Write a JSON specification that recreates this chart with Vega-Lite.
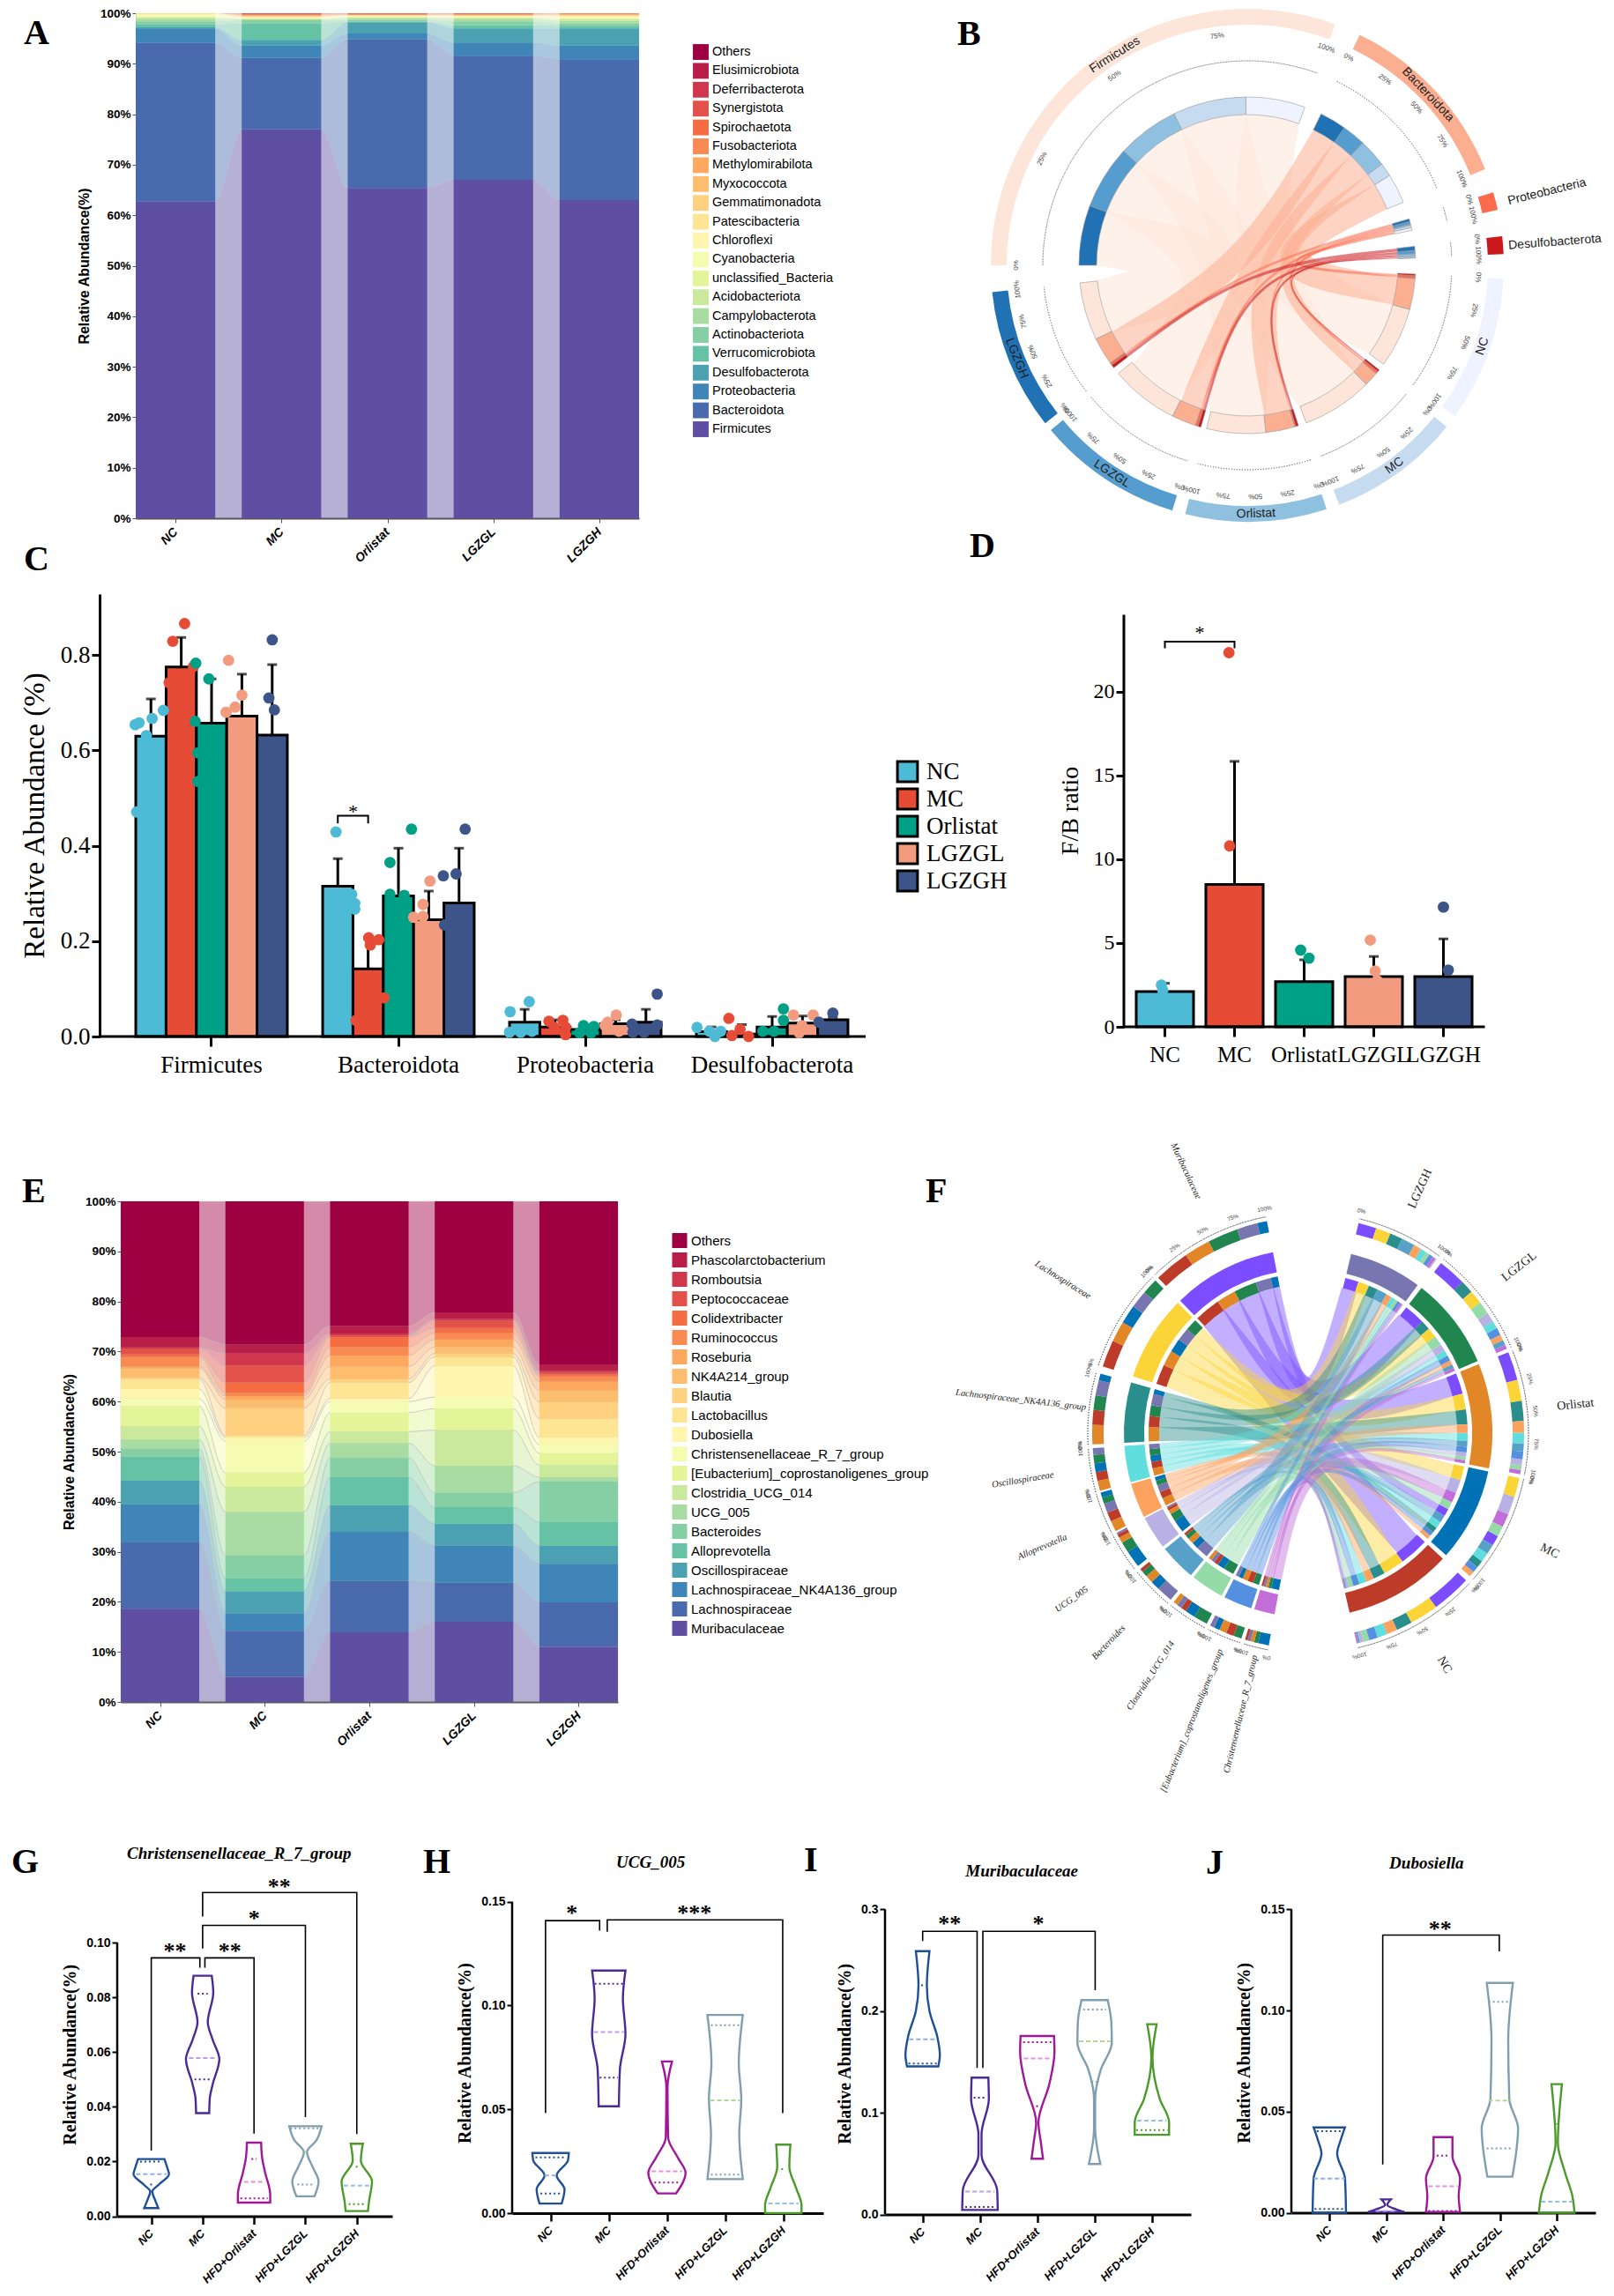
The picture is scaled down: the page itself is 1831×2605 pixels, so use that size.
{"$schema":"https://vega.github.io/schema/vega-lite/v6.json","background":"white","padding":{"left":13,"top":-17,"right":0,"bottom":40},"config":{"view":{"stroke":null},"axis":{"grid":false}},
"datasets":{
"slots":[{"s":"N0","g":"NC"},{"s":"N1","g":"NC"},{"s":"M0","g":"MC"},{"s":"M1","g":"MC"},{"s":"O0","g":"Orlistat"},{"s":"O1","g":"Orlistat"},{"s":"L0","g":"LGZGL"},{"s":"L1","g":"LGZGL"},{"s":"H0","g":"LGZGH"},{"s":"H1","g":"LGZGH"}],
"phyla":[
{"t":"Firmicutes","r":1,"N0":62.7,"N1":62.7,"M0":77,"M1":77,"O0":65.4,"O1":65.4,"L0":67,"L1":67,"H0":63,"H1":63},
{"t":"Bacteroidota","r":2,"N0":31.4,"N1":31.4,"M0":14.2,"M1":14.2,"O0":29.4,"O1":29.4,"L0":24.6,"L1":24.6,"H0":27.9,"H1":27.9},
{"t":"Proteobacteria","r":3,"N0":2.9,"N1":2.9,"M0":2.4,"M1":2.4,"O0":1.2,"O1":1.2,"L0":2.6,"L1":2.6,"H0":2.7,"H1":2.7},
{"t":"Desulfobacterota","r":4,"N0":0.2,"N1":0.2,"M0":1.1,"M1":1.1,"O0":2.2,"O1":2.2,"L0":2.8,"L1":2.8,"H0":3.4,"H1":3.4},
{"t":"Verrucomicrobiota","r":5,"N0":0.6,"N1":0.6,"M0":3.3,"M1":3.3,"O0":0.1,"O1":0.1,"L0":0.6,"L1":0.6,"H0":0.5,"H1":0.5},
{"t":"Actinobacteriota","r":6,"N0":0.6,"N1":0.6,"M0":0.6,"M1":0.6,"O0":0.4,"O1":0.4,"L0":0.8,"L1":0.8,"H0":0.5,"H1":0.5},
{"t":"Campylobacterota","r":7,"N0":0.5,"N1":0.5,"M0":0.2,"M1":0.2,"O0":0.3,"O1":0.3,"L0":0.5,"L1":0.5,"H0":0.5,"H1":0.5},
{"t":"Acidobacteriota","r":8,"N0":0.3,"N1":0.3,"M0":0.1,"M1":0.1,"O0":0.2,"O1":0.2,"L0":0.2,"L1":0.2,"H0":0.3,"H1":0.3},
{"t":"unclassified_Bacteria","r":9,"N0":0.2,"N1":0.2,"M0":0.1,"M1":0.1,"O0":0.1,"O1":0.1,"L0":0.1,"L1":0.1,"H0":0.2,"H1":0.2},
{"t":"Cyanobacteria","r":10,"N0":0.2,"N1":0.2,"M0":0.1,"M1":0.1,"O0":0.1,"O1":0.1,"L0":0.1,"L1":0.1,"H0":0.2,"H1":0.2},
{"t":"Chloroflexi","r":11,"N0":0.2,"N1":0.2,"M0":0.1,"M1":0.1,"O0":0.1,"O1":0.1,"L0":0.1,"L1":0.1,"H0":0.2,"H1":0.2},
{"t":"Patescibacteria","r":12,"N0":0.1,"N1":0.1,"M0":0.1,"M1":0.1,"O0":0.1,"O1":0.1,"L0":0.1,"L1":0.1,"H0":0.1,"H1":0.1},
{"t":"Gemmatimonadota","r":13,"N0":0.1,"N1":0.1,"M0":0.1,"M1":0.1,"O0":0,"O1":0,"L0":0.1,"L1":0.1,"H0":0.1,"H1":0.1},
{"t":"Myxococcota","r":14,"N0":0,"N1":0,"M0":0.1,"M1":0.1,"O0":0,"O1":0,"L0":0,"L1":0,"H0":0.1,"H1":0.1},
{"t":"Methylomirabilota","r":15,"N0":0,"N1":0,"M0":0.1,"M1":0.1,"O0":0.1,"O1":0.1,"L0":0.1,"L1":0.1,"H0":0.1,"H1":0.1},
{"t":"Fusobacteriota","r":16,"N0":0,"N1":0,"M0":0.1,"M1":0.1,"O0":0.1,"O1":0.1,"L0":0.1,"L1":0.1,"H0":0.1,"H1":0.1},
{"t":"Spirochaetota","r":17,"N0":0,"N1":0,"M0":0.1,"M1":0.1,"O0":0.1,"O1":0.1,"L0":0.1,"L1":0.1,"H0":0.1,"H1":0.1},
{"t":"Synergistota","r":18,"N0":0,"N1":0,"M0":0.1,"M1":0.1,"O0":0.1,"O1":0.1,"L0":0.1,"L1":0.1,"H0":0,"H1":0},
{"t":"Deferribacterota","r":19,"N0":0,"N1":0,"M0":0.1,"M1":0.1,"O0":0,"O1":0,"L0":0,"L1":0,"H0":0,"H1":0},
{"t":"Elusimicrobiota","r":20,"N0":0,"N1":0,"M0":0,"M1":0,"O0":0,"O1":0,"L0":0,"L1":0,"H0":0,"H1":0},
{"t":"Others","r":21,"N0":0,"N1":0,"M0":0,"M1":0,"O0":0,"O1":0,"L0":0,"L1":0,"H0":0,"H1":0}],
"genera":[
{"t":"Muribaculaceae","r":1,"N0":18.6,"N1":18.6,"M0":5,"M1":5,"O0":13.9,"O1":13.9,"L0":16,"L1":16,"H0":11,"H1":11},
{"t":"Lachnospiraceae","r":2,"N0":13.4,"N1":13.4,"M0":9.2,"M1":9.2,"O0":10.3,"O1":10.3,"L0":7.8,"L1":7.8,"H0":8.9,"H1":8.9},
{"t":"Lachnospiraceae_NK4A136_group","r":3,"N0":7.5,"N1":7.5,"M0":3.5,"M1":3.5,"O0":9.8,"O1":9.8,"L0":7.4,"L1":7.4,"H0":7.7,"H1":7.7},
{"t":"Oscillospiraceae","r":4,"N0":4.7,"N1":4.7,"M0":4.4,"M1":4.4,"O0":5.3,"O1":5.3,"L0":4.4,"L1":4.4,"H0":3.6,"H1":3.6},
{"t":"Alloprevotella","r":5,"N0":4.8,"N1":4.8,"M0":2.6,"M1":2.6,"O0":5.6,"O1":5.6,"L0":3.3,"L1":3.3,"H0":4.7,"H1":4.7},
{"t":"Bacteroides","r":6,"N0":1.6,"N1":1.6,"M0":4.6,"M1":4.6,"O0":3.9,"O1":3.9,"L0":2.9,"L1":2.9,"H0":8.1,"H1":8.1},
{"t":"UCG_005","r":7,"N0":1.8,"N1":1.8,"M0":8.7,"M1":8.7,"O0":2.9,"O1":2.9,"L0":5.4,"L1":5.4,"H0":0.9,"H1":0.9},
{"t":"Clostridia_UCG_014","r":8,"N0":2.7,"N1":2.7,"M0":5,"M1":5,"O0":2.3,"O1":2.3,"L0":7.1,"L1":7.1,"H0":2.4,"H1":2.4},
{"t":"[Eubacterium]_coprostanoligenes_group","r":9,"N0":4,"N1":4,"M0":2.8,"M1":2.8,"O0":3.8,"O1":3.8,"L0":4.3,"L1":4.3,"H0":2.4,"H1":2.4},
{"t":"Christensenellaceae_R_7_group","r":10,"N0":1.5,"N1":1.5,"M0":6.3,"M1":6.3,"O0":2.2,"O1":2.2,"L0":2.3,"L1":2.3,"H0":1.7,"H1":1.7},
{"t":"Dubosiella","r":11,"N0":1.9,"N1":1.9,"M0":0.7,"M1":0.7,"O0":0.6,"O1":0.6,"L0":6.2,"L1":6.2,"H0":1.4,"H1":1.4},
{"t":"Lactobacillus","r":12,"N0":2,"N1":2,"M0":0.4,"M1":0.4,"O0":3.2,"O1":3.2,"L0":1.8,"L1":1.8,"H0":3.8,"H1":3.8},
{"t":"Blautia","r":13,"N0":0.3,"N1":0.3,"M0":5.5,"M1":5.5,"O0":0.7,"O1":0.7,"L0":0.7,"L1":0.7,"H0":3.3,"H1":3.3},
{"t":"NK4A214_group","r":14,"N0":1.8,"N1":1.8,"M0":1.7,"M1":1.7,"O0":2.5,"O1":2.5,"L0":1.3,"L1":1.3,"H0":2.3,"H1":2.3},
{"t":"Roseburia","r":15,"N0":0.4,"N1":0.4,"M0":0.7,"M1":0.7,"O0":2.2,"O1":2.2,"L0":1.5,"L1":1.5,"H0":1.8,"H1":1.8},
{"t":"Ruminococcus","r":16,"N0":1.9,"N1":1.9,"M0":0.6,"M1":0.6,"O0":1.7,"O1":1.7,"L0":1.3,"L1":1.3,"H0":1,"H1":1},
{"t":"Colidextribacter","r":17,"N0":0.5,"N1":0.5,"M0":2.1,"M1":2.1,"O0":2,"O1":2,"L0":1,"L1":1,"H0":0.4,"H1":0.4},
{"t":"Peptococcaceae","r":18,"N0":1.2,"N1":1.2,"M0":3.4,"M1":3.4,"O0":0.3,"O1":0.3,"L0":1.5,"L1":1.5,"H0":0.4,"H1":0.4},
{"t":"Romboutsia","r":19,"N0":0.2,"N1":0.2,"M0":2.4,"M1":2.4,"O0":0.4,"O1":0.4,"L0":0.3,"L1":0.3,"H0":0.3,"H1":0.3},
{"t":"Phascolarctobacterium","r":20,"N0":2.1,"N1":2.1,"M0":1.8,"M1":1.8,"O0":1.5,"O1":1.5,"L0":1.3,"L1":1.3,"H0":1.2,"H1":1.2},
{"t":"Others","r":21,"N0":27.1,"N1":27.1,"M0":28.6,"M1":28.6,"O0":24.9,"O1":24.9,"L0":22.2,"L1":22.2,"H0":32.7,"H1":32.7}],
"bSec":[
{"n":"Firmicutes","s":270,"e":380,"m":327.8,"0%":270,"25%":297.5,"50%":325,"75%":352.5,"100%":380},
{"n":"Bacteroidota","s":26,"e":68,"m":46.6,"0%":26,"25%":36.5,"50%":47,"75%":57.5,"100%":68},
{"n":"Proteobacteria","s":73.5,"e":77.5,"m":76.2,"0%":73.5,"100%":77.5},
{"n":"Desulfobacterota","s":83.5,"e":87.5,"m":85.7,"0%":83.5,"100%":87.5},
{"n":"NC","s":93,"e":126,"m":109,"0%":93,"25%":101.25,"50%":109.5,"75%":117.75,"100%":126},
{"n":"MC","s":129,"e":159,"m":143.7,"0%":129,"25%":136.5,"50%":144,"75%":151.5,"100%":159},
{"n":"Orlistat","s":162,"e":194,"m":178,"0%":162,"25%":170,"50%":178,"75%":186,"100%":194},
{"n":"LGZGL","s":197,"e":230,"m":213,"0%":197,"25%":205.25,"50%":213.5,"75%":221.75,"100%":230},
{"n":"LGZGH","s":232,"e":264,"m":248,"0%":232,"25%":240,"50%":248,"75%":256,"100%":264}],
"bCh":[
{"t":"Firmicutes","g":"NC","v":62.7,"a0":359.5,"a1":380,"b0":105.2,"b1":126,"x":[0.169,0,0.902],"y":[0.986,0,-0.432]},
{"t":"Firmicutes","g":"MC","v":77,"a0":334.2,"a1":359.5,"b0":135,"b1":159.5,"x":[-0.228,0,0.541],"y":[0.974,0,-0.841]},
{"t":"Firmicutes","g":"Orlistat","v":65.4,"a0":312.7,"a1":334.2,"b0":173.6,"b1":194,"x":[-0.596,0,-0.066],"y":[0.803,0,-0.998]},
{"t":"Firmicutes","g":"LGZGL","v":67,"a0":290.7,"a1":312.7,"b0":206.3,"b1":230,"x":[-0.851,0,-0.618],"y":[0.525,0,-0.786]},
{"t":"Firmicutes","g":"LGZGH","v":63,"a0":270,"a1":290.7,"b0":244,"b1":264,"x":[-0.984,0,-0.961],"y":[0.18,0,-0.276]},
{"t":"Bacteroidota","g":"NC","v":31.4,"a0":57.7,"a1":68,"b0":94.5,"b1":105.2,"x":[0.89,0,0.985],"y":[0.456,0,-0.171]},
{"t":"Bacteroidota","g":"MC","v":14.2,"a0":53,"a1":57.7,"b0":130,"b1":135,"x":[0.823,0,0.737],"y":[0.569,0,-0.676]},
{"t":"Bacteroidota","g":"Orlistat","v":29.4,"a0":43.3,"a1":53,"b0":163.6,"b1":173.6,"x":[0.745,0,0.198],"y":[0.667,0,-0.98]},
{"t":"Bacteroidota","g":"LGZGL","v":24.6,"a0":35.2,"a1":43.3,"b0":197.9,"b1":206.3,"x":[0.633,0,-0.376],"y":[0.774,0,-0.927]},
{"t":"Bacteroidota","g":"LGZGH","v":27.9,"a0":26,"a1":35.2,"b0":234.5,"b1":244,"x":[0.509,0,-0.859],"y":[0.861,0,-0.511]},
{"t":"Proteobacteria","g":"NC","v":2.9,"a0":77,"a1":78,"b0":93.5,"b1":94.5,"x":[0.976,0,0.998],"y":[0.216,0,-0.07]},
{"t":"Proteobacteria","g":"MC","v":2.4,"a0":76.2,"a1":77,"b0":129.1,"b1":130,"x":[0.973,0,0.771],"y":[0.232,0,-0.637]},
{"t":"Proteobacteria","g":"Orlistat","v":1.2,"a0":75.8,"a1":76.2,"b0":163.2,"b1":163.6,"x":[0.97,0,0.286],"y":[0.242,0,-0.958]},
{"t":"Proteobacteria","g":"LGZGL","v":2.6,"a0":74.9,"a1":75.8,"b0":197,"b1":197.9,"x":[0.967,0,-0.3],"y":[0.253,0,-0.954]},
{"t":"Proteobacteria","g":"LGZGH","v":2.7,"a0":74,"a1":74.9,"b0":233.6,"b1":234.5,"x":[0.963,0,-0.809],"y":[0.268,0,-0.588]},
{"t":"Desulfobacterota","g":"NC","v":0.2,"a0":87.4,"a1":87.5,"b0":93,"b1":93.5,"x":[0.999,0,0.998],"y":[0.044,0,-0.057]},
{"t":"Desulfobacterota","g":"MC","v":1.1,"a0":86.9,"a1":87.4,"b0":128.4,"b1":129.1,"x":[0.999,0,0.78],"y":[0.05,0,-0.626]},
{"t":"Desulfobacterota","g":"Orlistat","v":2.2,"a0":86,"a1":86.9,"b0":162.3,"b1":163.2,"x":[0.998,0,0.297],"y":[0.062,0,-0.955]},
{"t":"Desulfobacterota","g":"LGZGL","v":2.8,"a0":84.9,"a1":86,"b0":196,"b1":197,"x":[0.997,0,-0.284],"y":[0.079,0,-0.959]},
{"t":"Desulfobacterota","g":"LGZGH","v":3.4,"a0":83.5,"a1":84.9,"b0":232.5,"b1":233.6,"x":[0.995,0,-0.799],"y":[0.101,0,-0.602]}],
"fSec":[
{"n":"Muribaculaceae","s":316,"e":349,"m":335,"0%":316,"25%":324.25,"50%":332.5,"75%":340.75,"100%":349},
{"n":"Lachnospiraceae","s":288,"e":315,"m":302,"0%":288,"100%":315},
{"n":"Lachnospiraceae_NK4A136_group","s":267,"e":286,"m":276.6,"0%":267,"100%":286},
{"n":"Oscillospiraceae","s":254.5,"e":266,"m":260.7,"0%":254.5,"100%":266},
{"n":"Alloprevotella","s":243,"e":254,"m":246.8,"0%":243,"100%":254},
{"n":"UCG_005","s":232,"e":242.5,"m":234.9,"0%":232,"100%":242.5},
{"n":"Bacteroides","s":219.5,"e":231,"m":223.6,"0%":219.5,"100%":231},
{"n":"Clostridia_UCG_014","s":208,"e":218.5,"m":213,"0%":208,"100%":218.5},
{"n":"[Eubacterium]_coprostanoligenes_group","s":198,"e":207,"m":202,"0%":198,"100%":207},
{"n":"Christensenellaceae_R_7_group","s":190.5,"e":197,"m":193.5,"0%":190.5,"100%":197},
{"n":"LGZGH","s":13.5,"e":36.5,"m":24.6,"0%":13.5,"100%":36.5},
{"n":"LGZGL","s":38,"e":67,"m":51.7,"0%":38,"100%":67},
{"n":"Orlistat","s":68,"e":101,"m":83.9,"0%":68,"25%":76.25,"50%":84.5,"75%":92.75,"100%":101},
{"n":"MC","s":102,"e":131.5,"m":116,"0%":102,"100%":131.5},
{"n":"NC","s":133,"e":167,"m":149.5,"0%":133,"25%":141.5,"50%":150,"75%":158.5,"100%":167}],
"fCh":[
{"t":"Muribaculaceae","g":"NC","v":18.6,"a0":316,"a1":325.5,"b0":133,"b1":143.7,"x":[-0.633,0,0.665],"y":[0.775,0,-0.747]},
{"t":"Muribaculaceae","g":"Orlistat","v":13.9,"a0":325.5,"a1":332.6,"b0":68,"b1":75.7,"x":[-0.514,0,0.95],"y":[0.858,0,0.311]},
{"t":"Muribaculaceae","g":"LGZGL","v":16,"a0":332.6,"a1":340.8,"b0":38,"b1":45.6,"x":[-0.396,0,0.666],"y":[0.918,0,0.745]},
{"t":"Muribaculaceae","g":"LGZGH","v":11,"a0":340.8,"a1":346.4,"b0":13.5,"b1":18.4,"x":[-0.282,0,0.275],"y":[0.959,0,0.962]},
{"t":"Muribaculaceae","g":"MC","v":5,"a0":346.4,"a1":349,"b0":118.5,"b1":121.3,"x":[-0.213,0,0.867],"y":[0.977,0,-0.498]},
{"t":"Lachnospiraceae","g":"NC","v":13.4,"a0":288,"a1":295.3,"b0":143.7,"b1":151.4,"x":[-0.93,0,0.537],"y":[0.369,0,-0.844]},
{"t":"Lachnospiraceae","g":"Orlistat","v":10.3,"a0":295.3,"a1":300.9,"b0":75.7,"b1":81.4,"x":[-0.882,0,0.98],"y":[0.471,0,0.199]},
{"t":"Lachnospiraceae","g":"MC","v":9.2,"a0":300.9,"a1":305.9,"b0":102,"b1":107.2,"x":[-0.835,0,0.968],"y":[0.55,0,-0.252]},
{"t":"Lachnospiraceae","g":"LGZGH","v":8.9,"a0":305.9,"a1":310.7,"b0":18.4,"b1":22.4,"x":[-0.785,0,0.349],"y":[0.62,0,0.937]},
{"t":"Lachnospiraceae","g":"LGZGL","v":7.8,"a0":310.7,"a1":315,"b0":49.1,"b1":52.8,"x":[-0.733,0,0.777],"y":[0.68,0,0.63]},
{"t":"Lachnospiraceae_NK4A136_group","g":"Orlistat","v":9.8,"a0":267,"a1":272.2,"b0":81.4,"b1":86.8,"x":[-1,0,0.995],"y":[-0.007,0,0.103]},
{"t":"Lachnospiraceae_NK4A136_group","g":"NC","v":7.5,"a0":272.2,"a1":276.2,"b0":151.4,"b1":155.7,"x":[-0.997,0,0.445],"y":[0.073,0,-0.895]},
{"t":"Lachnospiraceae_NK4A136_group","g":"LGZGL","v":7.4,"a0":276.2,"a1":280.1,"b0":45.6,"b1":49.1,"x":[-0.99,0,0.736],"y":[0.142,0,0.678]},
{"t":"Lachnospiraceae_NK4A136_group","g":"LGZGH","v":7.7,"a0":280.1,"a1":284.2,"b0":22.4,"b1":25.8,"x":[-0.978,0,0.408],"y":[0.21,0,0.913]},
{"t":"Lachnospiraceae_NK4A136_group","g":"MC","v":3.5,"a0":284.2,"a1":286,"b0":126.4,"b1":128.4,"x":[-0.965,0,0.794],"y":[0.261,0,-0.607]},
{"t":"Oscillospiraceae","g":"Orlistat","v":5.3,"a0":254.5,"a1":257.2,"b0":89.9,"b1":92.8,"x":[-0.97,0,1],"y":[-0.244,0,-0.024]},
{"t":"Oscillospiraceae","g":"NC","v":4.7,"a0":257.2,"a1":259.6,"b0":158.5,"b1":161.2,"x":[-0.98,0,0.344],"y":[-0.201,0,-0.939]},
{"t":"Oscillospiraceae","g":"MC","v":4.4,"a0":259.6,"a1":261.9,"b0":123.9,"b1":126.4,"x":[-0.987,0,0.818],"y":[-0.161,0,-0.576]},
{"t":"Oscillospiraceae","g":"LGZGL","v":4.4,"a0":261.9,"a1":264.2,"b0":58.8,"b1":60.9,"x":[-0.993,0,0.865],"y":[-0.121,0,0.502]},
{"t":"Oscillospiraceae","g":"LGZGH","v":3.6,"a0":264.2,"a1":266,"b0":31.5,"b1":33.1,"x":[-0.996,0,0.534],"y":[-0.085,0,0.845]},
{"t":"Alloprevotella","g":"Orlistat","v":5.6,"a0":243,"a1":245.9,"b0":86.8,"b1":89.9,"x":[-0.902,0,1],"y":[-0.431,0,0.029]},
{"t":"Alloprevotella","g":"NC","v":4.8,"a0":245.9,"a1":248.4,"b0":155.7,"b1":158.5,"x":[-0.922,0,0.389],"y":[-0.388,0,-0.921]},
{"t":"Alloprevotella","g":"LGZGH","v":4.7,"a0":248.4,"a1":250.9,"b0":29.4,"b1":31.5,"x":[-0.938,0,0.507],"y":[-0.348,0,0.862]},
{"t":"Alloprevotella","g":"LGZGL","v":3.3,"a0":250.9,"a1":252.6,"b0":62.9,"b1":64.5,"x":[-0.95,0,0.896],"y":[-0.313,0,0.443]},
{"t":"Alloprevotella","g":"MC","v":2.6,"a0":252.6,"a1":254,"b0":130,"b1":131.5,"x":[-0.958,0,0.758],"y":[-0.287,0,-0.653]},
{"t":"UCG_005","g":"MC","v":8.7,"a0":232,"a1":236.6,"b0":107.2,"b1":112.1,"x":[-0.812,0,0.942],"y":[-0.584,0,-0.336]},
{"t":"UCG_005","g":"LGZGL","v":5.4,"a0":236.6,"a1":239.5,"b0":56.2,"b1":58.8,"x":[-0.849,0,0.843],"y":[-0.529,0,0.537]},
{"t":"UCG_005","g":"Orlistat","v":2.9,"a0":239.5,"a1":241,"b0":97,"b1":98.6,"x":[-0.868,0,0.991],"y":[-0.496,0,-0.136]},
{"t":"UCG_005","g":"NC","v":1.8,"a0":241,"a1":242,"b0":165.1,"b1":166.1,"x":[-0.879,0,0.249],"y":[-0.477,0,-0.969]},
{"t":"UCG_005","g":"LGZGH","v":0.9,"a0":242,"a1":242.5,"b0":36.1,"b1":36.5,"x":[-0.885,0,0.592],"y":[-0.466,0,0.806]},
{"t":"Bacteroides","g":"LGZGH","v":8.1,"a0":219.5,"a1":223.9,"b0":25.8,"b1":29.4,"x":[-0.665,0,0.463],"y":[-0.747,0,0.886]},
{"t":"Bacteroides","g":"MC","v":4.6,"a0":223.9,"a1":226.4,"b0":121.3,"b1":123.9,"x":[-0.709,0,0.842],"y":[-0.705,0,-0.539]},
{"t":"Bacteroides","g":"Orlistat","v":3.9,"a0":226.4,"a1":228.5,"b0":92.8,"b1":94.9,"x":[-0.737,0,0.998],"y":[-0.676,0,-0.067]},
{"t":"Bacteroides","g":"LGZGL","v":2.9,"a0":228.5,"a1":230.1,"b0":64.5,"b1":65.9,"x":[-0.758,0,0.908],"y":[-0.652,0,0.419]},
{"t":"Bacteroides","g":"NC","v":1.6,"a0":230.1,"a1":231,"b0":166.1,"b1":166.6,"x":[-0.772,0,0.236],"y":[-0.636,0,-0.972]},
{"t":"Clostridia_UCG_014","g":"LGZGL","v":7.1,"a0":208,"a1":211.8,"b0":52.8,"b1":56.2,"x":[-0.498,0,0.814],"y":[-0.867,0,0.581]},
{"t":"Clostridia_UCG_014","g":"MC","v":5,"a0":211.8,"a1":214.5,"b0":115.7,"b1":118.5,"x":[-0.547,0,0.89],"y":[-0.837,0,-0.456]},
{"t":"Clostridia_UCG_014","g":"NC","v":2.7,"a0":214.5,"a1":216,"b0":163.5,"b1":165.1,"x":[-0.577,0,0.271],"y":[-0.817,0,-0.963]},
{"t":"Clostridia_UCG_014","g":"LGZGH","v":2.4,"a0":216,"a1":217.3,"b0":33.1,"b1":34.2,"x":[-0.597,0,0.554],"y":[-0.802,0,0.832]},
{"t":"Clostridia_UCG_014","g":"Orlistat","v":2.3,"a0":217.3,"a1":218.5,"b0":98.6,"b1":99.9,"x":[-0.614,0,0.987],"y":[-0.789,0,-0.161]},
{"t":"[Eubacterium]_coprostanoligenes_group","g":"LGZGL","v":4.3,"a0":198,"a1":200.2,"b0":60.9,"b1":62.9,"x":[-0.327,0,0.882],"y":[-0.945,0,0.471]},
{"t":"[Eubacterium]_coprostanoligenes_group","g":"NC","v":4,"a0":200.2,"a1":202.3,"b0":161.2,"b1":163.5,"x":[-0.362,0,0.303],"y":[-0.932,0,-0.953]},
{"t":"[Eubacterium]_coprostanoligenes_group","g":"Orlistat","v":3.8,"a0":202.3,"a1":204.3,"b0":94.9,"b1":97,"x":[-0.396,0,0.995],"y":[-0.918,0,-0.104]},
{"t":"[Eubacterium]_coprostanoligenes_group","g":"MC","v":2.8,"a0":204.3,"a1":205.8,"b0":128.4,"b1":130,"x":[-0.423,0,0.775],"y":[-0.906,0,-0.632]},
{"t":"[Eubacterium]_coprostanoligenes_group","g":"LGZGH","v":2.4,"a0":205.8,"a1":207,"b0":34.2,"b1":35.3,"x":[-0.445,0,0.57],"y":[-0.896,0,0.822]},
{"t":"Christensenellaceae_R_7_group","g":"MC","v":6.3,"a0":190.5,"a1":193.4,"b0":112.1,"b1":115.7,"x":[-0.207,0,0.914],"y":[-0.978,0,-0.405]},
{"t":"Christensenellaceae_R_7_group","g":"LGZGL","v":2.3,"a0":193.4,"a1":194.5,"b0":65.9,"b1":67,"x":[-0.241,0,0.917],"y":[-0.97,0,0.4]},
{"t":"Christensenellaceae_R_7_group","g":"Orlistat","v":2.2,"a0":194.5,"a1":195.5,"b0":99.9,"b1":101,"x":[-0.259,0,0.984],"y":[-0.966,0,-0.181]},
{"t":"Christensenellaceae_R_7_group","g":"LGZGH","v":1.7,"a0":195.5,"a1":196.3,"b0":35.3,"b1":36.1,"x":[-0.274,0,0.584],"y":[-0.962,0,0.812]},
{"t":"Christensenellaceae_R_7_group","g":"NC","v":1.5,"a0":196.3,"a1":197,"b0":166.6,"b1":167,"x":[-0.287,0,0.228],"y":[-0.958,0,-0.974]}],
"cBars":[
{"p":"Firmicutes","g":"NC","m":0.63,"u":0.708},{"p":"Firmicutes","g":"MC","m":0.775,"u":0.837},{"p":"Firmicutes","g":"Orlistat","m":0.657,"u":0.75},{"p":"Firmicutes","g":"LGZGL","m":0.672,"u":0.76},{"p":"Firmicutes","g":"LGZGH","m":0.632,"u":0.78},
{"p":"Bacteroidota","g":"NC","m":0.315,"u":0.373},{"p":"Bacteroidota","g":"MC","m":0.142,"u":0.205},{"p":"Bacteroidota","g":"Orlistat","m":0.295,"u":0.395},{"p":"Bacteroidota","g":"LGZGL","m":0.245,"u":0.305},{"p":"Bacteroidota","g":"LGZGH","m":0.28,"u":0.395},
{"p":"Proteobacteria","g":"NC","m":0.03,"u":0.057},{"p":"Proteobacteria","g":"MC","m":0.02,"u":0.035},{"p":"Proteobacteria","g":"Orlistat","m":0.015,"u":0.02},{"p":"Proteobacteria","g":"LGZGL","m":0.027,"u":0.035},{"p":"Proteobacteria","g":"LGZGH","m":0.03,"u":0.057},
{"p":"Desulfobacterota","g":"NC","m":0.01,"u":0.02},{"p":"Desulfobacterota","g":"MC","m":0.005,"u":0.025},{"p":"Desulfobacterota","g":"Orlistat","m":0.02,"u":0.042},{"p":"Desulfobacterota","g":"LGZGL","m":0.028,"u":0.043},{"p":"Desulfobacterota","g":"LGZGH","m":0.035,"u":0.04}],
"cPts":[
{"p":"Firmicutes","g":"NC","o":-2.52,"v":0.654},{"p":"Firmicutes","g":"NC","o":-2.39,"v":0.658},{"p":"Firmicutes","g":"NC","o":-1.96,"v":0.667},{"p":"Firmicutes","g":"NC","o":-1.59,"v":0.684},{"p":"Firmicutes","g":"NC","o":-2.15,"v":0.631},{"p":"Firmicutes","g":"NC","o":-2.47,"v":0.471},
{"p":"Firmicutes","g":"MC","o":-0.89,"v":0.866},{"p":"Firmicutes","g":"MC","o":-1.28,"v":0.829},{"p":"Firmicutes","g":"MC","o":-1.4,"v":0.742},{"p":"Firmicutes","g":"MC","o":-0.6,"v":0.776},
{"p":"Firmicutes","g":"Orlistat","o":-0.52,"v":0.783},{"p":"Firmicutes","g":"Orlistat","o":-0.09,"v":0.75},{"p":"Firmicutes","g":"Orlistat","o":-0.54,"v":0.661},{"p":"Firmicutes","g":"Orlistat","o":-0.45,"v":0.595},{"p":"Firmicutes","g":"Orlistat","o":-0.45,"v":0.535},
{"p":"Firmicutes","g":"LGZGL","o":0.56,"v":0.789},{"p":"Firmicutes","g":"LGZGL","o":1,"v":0.716},{"p":"Firmicutes","g":"LGZGL","o":0.78,"v":0.691},{"p":"Firmicutes","g":"LGZGL","o":0.48,"v":0.68},
{"p":"Firmicutes","g":"LGZGH","o":2,"v":0.832},{"p":"Firmicutes","g":"LGZGH","o":1.89,"v":0.71},{"p":"Firmicutes","g":"LGZGH","o":2.07,"v":0.685},
{"p":"Bacteroidota","g":"NC","o":-2.06,"v":0.429},{"p":"Bacteroidota","g":"NC","o":-2.2,"v":0.3},{"p":"Bacteroidota","g":"NC","o":-1.54,"v":0.298},{"p":"Bacteroidota","g":"NC","o":-1.44,"v":0.279},{"p":"Bacteroidota","g":"NC","o":-1.44,"v":0.267},
{"p":"Bacteroidota","g":"MC","o":-0.98,"v":0.207},{"p":"Bacteroidota","g":"MC","o":-0.65,"v":0.203},{"p":"Bacteroidota","g":"MC","o":-0.93,"v":0.192},{"p":"Bacteroidota","g":"MC","o":-0.48,"v":0.081},{"p":"Bacteroidota","g":"MC","o":-1.4,"v":0.034},
{"p":"Bacteroidota","g":"Orlistat","o":-0.28,"v":0.365},{"p":"Bacteroidota","g":"Orlistat","o":0.43,"v":0.435},{"p":"Bacteroidota","g":"Orlistat","o":-0.28,"v":0.298},{"p":"Bacteroidota","g":"Orlistat","o":0.19,"v":0.296},
{"p":"Bacteroidota","g":"LGZGL","o":1.04,"v":0.326},{"p":"Bacteroidota","g":"LGZGL","o":0.81,"v":0.277},{"p":"Bacteroidota","g":"LGZGL","o":0.5,"v":0.25},{"p":"Bacteroidota","g":"LGZGL","o":0.81,"v":0.252},
{"p":"Bacteroidota","g":"LGZGH","o":2.2,"v":0.435},{"p":"Bacteroidota","g":"LGZGH","o":1.9,"v":0.341},{"p":"Bacteroidota","g":"LGZGH","o":1.48,"v":0.337},{"p":"Bacteroidota","g":"LGZGH","o":1.52,"v":0.234},
{"p":"Proteobacteria","g":"NC","o":-1.85,"v":0.073},{"p":"Proteobacteria","g":"NC","o":-2.48,"v":0.052},{"p":"Proteobacteria","g":"NC","o":-2.5,"v":0.009},{"p":"Proteobacteria","g":"NC","o":-2.13,"v":0.009},{"p":"Proteobacteria","g":"NC","o":-1.76,"v":0.011},
{"p":"Proteobacteria","g":"MC","o":-1.2,"v":0.032},{"p":"Proteobacteria","g":"MC","o":-0.74,"v":0.034},{"p":"Proteobacteria","g":"MC","o":-1.02,"v":0.019},{"p":"Proteobacteria","g":"MC","o":-0.65,"v":0.019},{"p":"Proteobacteria","g":"MC","o":-0.65,"v":0.004},
{"p":"Proteobacteria","g":"Orlistat","o":-0.06,"v":0.023},{"p":"Proteobacteria","g":"Orlistat","o":0.28,"v":0.021},{"p":"Proteobacteria","g":"Orlistat","o":-0.19,"v":0.008},{"p":"Proteobacteria","g":"Orlistat","o":0.19,"v":0.008},
{"p":"Proteobacteria","g":"LGZGL","o":1.02,"v":0.045},{"p":"Proteobacteria","g":"LGZGL","o":0.74,"v":0.03},{"p":"Proteobacteria","g":"LGZGL","o":0.65,"v":0.023},{"p":"Proteobacteria","g":"LGZGL","o":1.11,"v":0.011},
{"p":"Proteobacteria","g":"LGZGH","o":2.37,"v":0.089},{"p":"Proteobacteria","g":"LGZGH","o":1.54,"v":0.026},{"p":"Proteobacteria","g":"LGZGH","o":2.37,"v":0.024},{"p":"Proteobacteria","g":"LGZGH","o":1.57,"v":0.009},{"p":"Proteobacteria","g":"LGZGH","o":1.94,"v":0.009},
{"p":"Desulfobacterota","g":"NC","o":-2.48,"v":0.019},{"p":"Desulfobacterota","g":"NC","o":-2.07,"v":0.011},{"p":"Desulfobacterota","g":"NC","o":-1.7,"v":0.011},{"p":"Desulfobacterota","g":"NC","o":-1.89,"v":0},
{"p":"Desulfobacterota","g":"MC","o":-1.43,"v":0.038},{"p":"Desulfobacterota","g":"MC","o":-1.06,"v":0.015},{"p":"Desulfobacterota","g":"MC","o":-1.33,"v":0.002},{"p":"Desulfobacterota","g":"MC","o":-0.78,"v":0},
{"p":"Desulfobacterota","g":"Orlistat","o":0.37,"v":0.058},{"p":"Desulfobacterota","g":"Orlistat","o":0.37,"v":0.034},{"p":"Desulfobacterota","g":"Orlistat","o":-0.31,"v":0.011},{"p":"Desulfobacterota","g":"Orlistat","o":0.06,"v":0.011},
{"p":"Desulfobacterota","g":"LGZGL","o":0.7,"v":0.045},{"p":"Desulfobacterota","g":"LGZGL","o":1.35,"v":0.045},{"p":"Desulfobacterota","g":"LGZGL","o":0.98,"v":0.023},{"p":"Desulfobacterota","g":"LGZGL","o":0.89,"v":0.008},
{"p":"Desulfobacterota","g":"LGZGH","o":2,"v":0.049},{"p":"Desulfobacterota","g":"LGZGH","o":1.54,"v":0.03}],
"dBars":[{"g":"NC","m":2.1,"u":2.6},{"g":"MC","m":8.5,"u":15.85},{"g":"Orlistat","m":2.7,"u":4},{"g":"LGZGL","m":3,"u":4.2},{"g":"LGZGH","m":3,"u":5.25}],
"dPts":[{"g":"NC","o":-0.05,"v":2.49},{"g":"NC","o":-0.03,"v":2.17},{"g":"MC","o":-0.08,"v":22.34},{"g":"MC","o":-0.07,"v":10.8},{"g":"Orlistat","o":-0.05,"v":4.58},{"g":"Orlistat","o":0.07,"v":4.1},{"g":"LGZGL","o":-0.05,"v":5.18},{"g":"LGZGL","o":0.02,"v":3.33},{"g":"LGZGL","o":0.05,"v":2.75},{"g":"LGZGH","o":0,"v":7.15},{"g":"LGZGH","o":0.07,"v":3.39}],
"gV":[
{"g":"N","y":0.0209,"x":0.744,"x2":1.256},{"g":"N","y":0.0175,"x":0.685,"x2":1.315},{"g":"N","y":0.0154,"x":0.655,"x2":1.345},{"g":"N","y":0.0116,"x":0.852,"x2":1.148},{"g":"N","y":0.009,"x":0.98,"x2":1.02},{"g":"N","y":0.0057,"x":0.921,"x2":1.079},{"g":"N","y":0.003,"x":0.862,"x2":1.138},
{"g":"M","y":0.0879,"x":1.823,"x2":2.177},{"g":"M","y":0.0817,"x":1.793,"x2":2.207},{"g":"M","y":0.0709,"x":1.9,"x2":2.1},{"g":"M","y":0.0644,"x":1.803,"x2":2.197},{"g":"M","y":0.0574,"x":1.675,"x2":2.325},{"g":"M","y":0.0483,"x":1.803,"x2":2.197},{"g":"M","y":0.0429,"x":1.862,"x2":2.138},{"g":"M","y":0.0377,"x":1.872,"x2":2.128},
{"g":"O","y":0.0269,"x":2.862,"x2":3.138},{"g":"O","y":0.0213,"x":2.842,"x2":3.158},{"g":"O","y":0.0159,"x":2.783,"x2":3.217},{"g":"O","y":0.0079,"x":2.685,"x2":3.315},{"g":"O","y":0.005,"x":2.685,"x2":3.315},
{"g":"L","y":0.0329,"x":3.685,"x2":4.315},{"g":"L","y":0.0278,"x":3.783,"x2":4.217},{"g":"L","y":0.0235,"x":3.97,"x2":4.03},{"g":"L","y":0.0181,"x":3.862,"x2":4.138},{"g":"L","y":0.0127,"x":3.744,"x2":4.256},{"g":"L","y":0.0073,"x":3.823,"x2":4.177},
{"g":"H","y":0.0265,"x":4.882,"x2":5.118},{"g":"H","y":0.0203,"x":4.921,"x2":5.079},{"g":"H","y":0.0127,"x":4.704,"x2":5.296},{"g":"H","y":0.0052,"x":4.764,"x2":5.236},{"g":"H","y":0.0019,"x":4.783,"x2":5.217}],
"gQ":[{"g":"N","k":"q","y":0.02,"x":0.783,"x2":1.217},{"g":"N","k":"m","y":0.0154,"x":0.704,"x2":1.296},{"g":"N","k":"q","y":0.0116,"x":0.98,"x2":1.02},{"g":"M","k":"q","y":0.0813,"x":1.901,"x2":2.099},{"g":"M","k":"m","y":0.0578,"x":1.734,"x2":2.266},{"g":"M","k":"q","y":0.05,"x":1.842,"x2":2.158},{"g":"O","k":"q","y":0.0209,"x":2.95,"x2":3.05},{"g":"O","k":"m","y":0.0126,"x":2.803,"x2":3.197},{"g":"O","k":"q","y":0.0065,"x":2.734,"x2":3.266},{"g":"L","k":"q","y":0.0321,"x":3.704,"x2":4.296},{"g":"L","k":"m","y":0.0235,"x":3.98,"x2":4.02},{"g":"L","k":"q","y":0.0116,"x":3.842,"x2":4.158},{"g":"H","k":"q","y":0.0181,"x":4.98,"x2":5.02},{"g":"H","k":"m","y":0.0112,"x":4.744,"x2":5.256},{"g":"H","k":"q","y":0.0044,"x":4.842,"x2":5.158}],
"gB":[{"b":1,"x":1,"y":0.024},{"b":1,"x":1,"y":0.0944},{"b":1,"x":1.946,"y":0.0944},{"b":1,"x":1.946,"y":0.0908},{"b":2,"x":2.044,"y":0.0908},{"b":2,"x":2.044,"y":0.0944},{"b":2,"x":3,"y":0.0944},{"b":2,"x":3,"y":0.0302},{"b":3,"x":2,"y":0.0978},{"b":3,"x":2,"y":0.1063},{"b":3,"x":4,"y":0.1063},{"b":3,"x":4,"y":0.0362},{"b":4,"x":2,"y":0.1095},{"b":4,"x":2,"y":0.1183},{"b":4,"x":5,"y":0.1183},{"b":4,"x":5,"y":0.03}],
"hV":[
{"g":"N","y":0.029,"x":0.687,"x2":1.313},{"g":"N","y":0.0255,"x":0.7,"x2":1.3},{"g":"N","y":0.0181,"x":0.896,"x2":1.104},{"g":"N","y":0.0115,"x":0.76,"x2":1.24},{"g":"N","y":0.0046,"x":0.81,"x2":1.19},
{"g":"M","y":0.1169,"x":1.713,"x2":2.287},{"g":"M","y":0.1034,"x":1.757,"x2":2.243},{"g":"M","y":0.0863,"x":1.713,"x2":2.287},{"g":"M","y":0.0692,"x":1.809,"x2":2.191},{"g":"M","y":0.0515,"x":1.826,"x2":2.174},
{"g":"O","y":0.0731,"x":2.913,"x2":3.087},{"g":"O","y":0.0607,"x":2.99,"x2":3.01},{"g":"O","y":0.0365,"x":2.98,"x2":3.02},{"g":"O","y":0.0266,"x":2.81,"x2":3.19},{"g":"O","y":0.0195,"x":2.68,"x2":3.32},{"g":"O","y":0.0095,"x":2.843,"x2":3.157},
{"g":"L","y":0.0955,"x":3.696,"x2":4.304},{"g":"L","y":0.0721,"x":3.765,"x2":4.235},{"g":"L","y":0.055,"x":3.722,"x2":4.278},{"g":"L","y":0.038,"x":3.757,"x2":4.243},{"g":"L","y":0.0164,"x":3.696,"x2":4.304},
{"g":"H","y":0.033,"x":4.878,"x2":5.122},{"g":"H","y":0.0223,"x":4.896,"x2":5.104},{"g":"H","y":0.0124,"x":4.783,"x2":5.217},{"g":"H","y":0.0038,"x":4.687,"x2":5.313},{"g":"H","y":0,"x":4.687,"x2":5.313}],
"hQ":[{"g":"N","k":"q","y":0.0269,"x":0.74,"x2":1.26},{"g":"N","k":"m","y":0.0181,"x":0.896,"x2":1.104},{"g":"N","k":"q","y":0.0095,"x":0.826,"x2":1.174},{"g":"M","k":"q","y":0.1105,"x":1.757,"x2":2.243},{"g":"M","k":"m","y":0.0873,"x":1.74,"x2":2.26},{"g":"M","k":"q","y":0.0653,"x":1.843,"x2":2.157},{"g":"O","k":"m","y":0.0202,"x":2.74,"x2":3.26},{"g":"O","k":"q","y":0.0148,"x":2.783,"x2":3.217},{"g":"L","k":"q","y":0.0906,"x":3.757,"x2":4.243},{"g":"L","k":"m","y":0.0543,"x":3.74,"x2":4.26},{"g":"L","k":"q","y":0.0186,"x":3.757,"x2":4.243},{"g":"H","k":"q","y":0.0212,"x":4.965,"x2":5.035},{"g":"H","k":"m","y":0.0047,"x":4.74,"x2":5.26}],
"hB":[{"b":1,"x":0.913,"y":0.0482},{"b":1,"x":0.913,"y":0.1409},{"b":1,"x":1.843,"y":0.1409},{"b":1,"x":1.843,"y":0.1361},{"b":2,"x":1.974,"y":0.1356},{"b":2,"x":1.974,"y":0.1413},{"b":2,"x":4.99,"y":0.1413},{"b":2,"x":4.99,"y":0.0482}],
"iV":[
{"g":"N","y":0.259,"x":0.881,"x2":1.119},{"g":"N","y":0.2254,"x":0.927,"x2":1.073},{"g":"N","y":0.2,"x":0.881,"x2":1.119},{"g":"N","y":0.1746,"x":0.744,"x2":1.256},{"g":"N","y":0.157,"x":0.7,"x2":1.3},{"g":"N","y":0.1456,"x":0.726,"x2":1.274},
{"g":"M","y":0.1346,"x":1.854,"x2":2.146},{"g":"M","y":0.1137,"x":1.845,"x2":2.155},{"g":"M","y":0.0789,"x":1.973,"x2":2.027},{"g":"M","y":0.0586,"x":1.973,"x2":2.027},{"g":"M","y":0.0238,"x":1.7,"x2":2.3},{"g":"M","y":0.0044,"x":1.69,"x2":2.31},
{"g":"O","y":0.1755,"x":2.708,"x2":3.292},{"g":"O","y":0.1601,"x":2.7,"x2":3.3},{"g":"O","y":0.1282,"x":2.79,"x2":3.21},{"g":"O","y":0.0905,"x":2.98,"x2":3.02},{"g":"O","y":0.0702,"x":2.936,"x2":3.064},{"g":"O","y":0.0548,"x":2.9,"x2":3.1},
{"g":"L","y":0.2109,"x":3.772,"x2":4.228},{"g":"L","y":0.1892,"x":3.708,"x2":4.292},{"g":"L","y":0.1688,"x":3.7,"x2":4.3},{"g":"L","y":0.1427,"x":3.89,"x2":4.11},{"g":"L","y":0.1137,"x":3.99,"x2":4.01},{"g":"L","y":0.0847,"x":3.99,"x2":4.01},{"g":"L","y":0.0496,"x":3.9,"x2":4.1},
{"g":"H","y":0.1871,"x":4.918,"x2":5.082},{"g":"H","y":0.1543,"x":4.99,"x2":5.01},{"g":"H","y":0.1137,"x":4.863,"x2":5.137},{"g":"H","y":0.0905,"x":4.7,"x2":5.3},{"g":"H","y":0.0783,"x":4.7,"x2":5.3}],
"iQ":[{"g":"N","k":"q","y":0.2254,"x":0.973,"x2":1.027},{"g":"N","k":"m","y":0.1723,"x":0.763,"x2":1.237},{"g":"N","k":"q","y":0.1485,"x":0.753,"x2":1.247},{"g":"M","k":"q","y":0.1149,"x":1.89,"x2":2.11},{"g":"M","k":"m","y":0.0226,"x":1.744,"x2":2.256},{"g":"M","k":"q","y":0.0073,"x":1.744,"x2":2.256},{"g":"O","k":"q","y":0.1694,"x":2.753,"x2":3.247},{"g":"O","k":"m","y":0.1535,"x":2.763,"x2":3.237},{"g":"O","k":"q","y":0.1065,"x":2.98,"x2":3.02},{"g":"L","k":"q","y":0.2016,"x":3.8,"x2":4.2},{"g":"L","k":"m","y":0.1703,"x":3.726,"x2":4.274},{"g":"L","k":"q","y":0.1305,"x":3.945,"x2":4.055},{"g":"H","k":"m","y":0.0923,"x":4.744,"x2":5.256},{"g":"H","k":"q","y":0.083,"x":4.726,"x2":5.274}],
"iB":[{"b":1,"x":1,"y":0.2689},{"b":1,"x":1,"y":0.2785},{"b":1,"x":1.95,"y":0.2785},{"b":1,"x":1.95,"y":0.1442},{"b":2,"x":2.05,"y":0.1442},{"b":2,"x":2.05,"y":0.2785},{"b":2,"x":4.01,"y":0.2785},{"b":2,"x":4.01,"y":0.2205}],
"jV":[
{"g":"N","y":0.0422,"x":0.724,"x2":1.276},{"g":"N","y":0.0359,"x":0.8,"x2":1.2},{"g":"N","y":0.0293,"x":0.862,"x2":1.138},{"g":"N","y":0.0169,"x":0.724,"x2":1.276},{"g":"N","y":0,"x":0.706,"x2":1.294},
{"g":"M","y":0.0066,"x":1.917,"x2":2.083},{"g":"M","y":0.0038,"x":1.98,"x2":2.02},{"g":"M","y":0.0016,"x":1.816,"x2":2.184},{"g":"M","y":0.0004,"x":1.68,"x2":2.32},
{"g":"O","y":0.0374,"x":2.834,"x2":3.166},{"g":"O","y":0.0279,"x":2.834,"x2":3.166},{"g":"O","y":0.0169,"x":2.7,"x2":3.3},{"g":"O","y":0.0082,"x":2.724,"x2":3.276},{"g":"O","y":0.0004,"x":2.7,"x2":3.3},
{"g":"L","y":0.1137,"x":3.77,"x2":4.23},{"g":"L","y":0.0855,"x":3.853,"x2":4.147},{"g":"L","y":0.0563,"x":3.834,"x2":4.166},{"g":"L","y":0.0417,"x":3.68,"x2":4.32},{"g":"L","y":0.0178,"x":3.78,"x2":4.22},
{"g":"H","y":0.0636,"x":4.908,"x2":5.092},{"g":"H","y":0.0344,"x":4.98,"x2":5.02},{"g":"H","y":0.0198,"x":4.853,"x2":5.147},{"g":"H","y":0.0082,"x":4.724,"x2":5.276},{"g":"H","y":0,"x":4.687,"x2":5.313}],
"jQ":[{"g":"N","k":"q","y":0.0403,"x":0.78,"x2":1.22},{"g":"N","k":"m","y":0.0169,"x":0.724,"x2":1.276},{"g":"N","k":"q","y":0.0018,"x":0.743,"x2":1.257},{"g":"M","k":"m","y":0.0009,"x":1.816,"x2":2.184},{"g":"O","k":"q","y":0.0282,"x":2.89,"x2":3.11},{"g":"O","k":"m","y":0.0131,"x":2.743,"x2":3.257},{"g":"O","k":"q","y":0.0009,"x":2.743,"x2":3.257},{"g":"L","k":"q","y":0.1043,"x":3.8,"x2":4.2},{"g":"L","k":"m","y":0.0555,"x":3.8,"x2":4.2},{"g":"L","k":"q","y":0.0318,"x":3.77,"x2":4.23},{"g":"H","k":"q","y":0.0439,"x":4.99,"x2":5.01},{"g":"H","k":"m","y":0.0055,"x":4.724,"x2":5.276}],
"jB":[{"b":1,"x":1.94,"y":0.0239},{"b":1,"x":1.94,"y":0.1373},{"b":1,"x":3.99,"y":0.1373},{"b":1,"x":3.99,"y":0.1293}]
},
"spacing":-100,
"resolve":{"scale":{"color":"independent","stroke":"independent","size":"independent","theta":"independent","angle":"independent","xOffset":"independent"},"legend":{"color":"independent"}},
"vconcat":[
{"spacing":0,"bounds":"flush","resolve":{"scale":{"color":"independent","stroke":"independent","size":"independent","theta":"independent","angle":"independent","xOffset":"independent"},"legend":{"color":"independent"}},"hconcat":[
{"width":41,"height":1,"data":{"values":[{"s":0}]},"mark":{"type":"point","opacity":0},"encoding":{}},
{"width":571,"height":573,"title":{"text":"A","font":"Liberation Serif","fontWeight":"bold","fontSize":40,"anchor":"start","frame":"group","dx":-127,"offset":-50},
"data":{"name":"phyla"},
"transform":[{"fold":["N0","N1","M0","M1","O0","O1","L0","L1","H0","H1"],"as":["s","v"]},{"lookup":"s","from":{"data":{"name":"slots"},"key":"s","fields":["g"]}},{"stack":"v","groupby":["s"],"sort":[{"field":"r","order":"ascending"}],"as":["y0","y1"]}],
"encoding":{
"x":{"field":"s","type":"ordinal","scale":{"type":"point","padding":0,"domain":["N0","a1","a2","NC","a3","a4","N1","b","M0","c1","c2","MC","c3","c4","M1","d","O0","e1","e2","Orlistat","e3","e4","O1","f","L0","g1","g2","LGZGL","g3","g4","L1","h","H0","i1","i2","LGZGH","i3","i4","H1"]},"axis":{"values":["NC","MC","Orlistat","LGZGL","LGZGH"],"title":null,"labelAngle":-45,"labelAlign":"right","labelBaseline":"middle","labelFont":"Liberation Sans","labelFontWeight":"bold","labelFontStyle":"italic","labelFontSize":14,"labelColor":"black","labelPadding":8,"tickColor":"#555","domainColor":"#555","domainWidth":2}},
"y":{"field":"y1","type":"quantitative","scale":{"domain":[0,100],"nice":false},"axis":{"values":[0,10,20,30,40,50,60,70,80,90,100],"labelExpr":"datum.value+'%'","title":"Relative Abundance(%)","titleFont":"Liberation Sans","titleFontWeight":"bold","titleFontSize":16,"titleColor":"black","titlePadding":10,"labelFont":"Liberation Sans","labelFontWeight":"bold","labelFontSize":13.5,"labelColor":"black","tickColor":"#555","domainColor":"#555","tickSize":4}},
"y2":{"field":"y0"},
"color":{"field":"t","type":"nominal","scale":{"domain":["Others","Elusimicrobiota","Deferribacterota","Synergistota","Spirochaetota","Fusobacteriota","Methylomirabilota","Myxococcota","Gemmatimonadota","Patescibacteria","Chloroflexi","Cyanobacteria","unclassified_Bacteria","Acidobacteriota","Campylobacterota","Actinobacteriota","Verrucomicrobiota","Desulfobacterota","Proteobacteria","Bacteroidota","Firmicutes"],"range":["#9e0142","#b81e48","#d0374d","#e2524a","#f46d43","#f88a52","#fca85e","#fdbd6f","#fdd180","#fee593","#fef5ae","#f6fbb2","#e4f498","#cbe99d","#a8dca2","#86cfa5","#65c2a5","#4ba0b1","#3f85b8","#4a6aae","#5e4fa2"]},"legend":{"orient":"none","legendX":632,"legendY":35,"title":null,"symbolType":"square","symbolSize":320,"symbolOpacity":1,"symbolStrokeWidth":0,"labelFont":"Liberation Sans","labelFontSize":14.5,"labelColor":"black","labelOffset":4,"rowPadding":3.4,"padding":0}}},
"layer":[{"mark":{"type":"area","opacity":0.45,"interpolate":"monotone","order":false}},{"mark":{"type":"area","order":false},"encoding":{"detail":{"field":"g"}}}]},
{"width":404,"height":1,"data":{"values":[{"s":0}]},"mark":{"type":"point","opacity":0},"encoding":{}},
{"width":572,"height":572,"title":{"text":"B","font":"Liberation Serif","fontWeight":"bold","fontSize":40,"anchor":"start","frame":"group","dx":-43,"offset":-75},
"resolve":{"scale":{"angle":"independent"}},
"layer":[
{"data":{"name":"bSec"},"mark":{"type":"arc","radius":232,"radius2":232,"fillOpacity":0,"stroke":"#777","strokeWidth":1,"strokeDash":[1,2]},"encoding":{"theta":{"field":"s","type":"quantitative","scale":{"domain":[0,360],"range":[0,6.2832]}},"theta2":{"field":"e"}}},
{"data":{"name":"bSec"},"mark":{"type":"arc","radius":291,"radius2":273},"encoding":{"theta":{"field":"s","type":"quantitative","scale":{"domain":[0,360],"range":[0,6.2832]}},"theta2":{"field":"e"},"color":{"field":"n","type":"nominal","legend":null,"scale":{"domain":["Firmicutes","Bacteroidota","Proteobacteria","Desulfobacterota","NC","MC","Orlistat","LGZGL","LGZGH"],"range":["#fee5d9","#fcae91","#fb6a4a","#cb181d","#eff3ff","#c6dbef","#8fc0e0","#559dce","#2171b5"]}}}},
{"data":{"name":"bCh"},"transform":[{"flatten":["x","y"]}],"mark":{"type":"line","interpolate":"basis","opacity":0.55,"order":false},"encoding":{"x":{"field":"x","type":"quantitative","axis":null,"scale":{"domain":[-1.6725,1.6725],"nice":false,"zero":false}},"y":{"field":"y","type":"quantitative","axis":null,"scale":{"domain":[-1.6725,1.6725],"nice":false,"zero":false}},"detail":{"field":"g"},"size":{"field":"v","type":"quantitative","legend":null,"scale":{"domain":[0,100],"range":[0,98]}},"color":{"field":"t","type":"nominal","legend":null,"scale":{"domain":["Firmicutes","Bacteroidota","Proteobacteria","Desulfobacterota","NC","MC","Orlistat","LGZGL","LGZGH"],"range":["#fee5d9","#fcae91","#fb6a4a","#cb181d","#eff3ff","#c6dbef","#8fc0e0","#559dce","#2171b5"]}}}},
{"data":{"name":"bCh"},"mark":{"type":"arc","radius":191,"radius2":171,"stroke":"#999","strokeWidth":0.6},"encoding":{"theta":{"field":"a0","type":"quantitative","scale":{"domain":[0,360],"range":[0,6.2832]}},"theta2":{"field":"a1"},"color":{"field":"g","type":"nominal","legend":null,"scale":{"domain":["Firmicutes","Bacteroidota","Proteobacteria","Desulfobacterota","NC","MC","Orlistat","LGZGL","LGZGH"],"range":["#fee5d9","#fcae91","#fb6a4a","#cb181d","#eff3ff","#c6dbef","#8fc0e0","#559dce","#2171b5"]}}}},
{"data":{"name":"bCh"},"mark":{"type":"arc","radius":191,"radius2":171,"stroke":"#999","strokeWidth":0.6},"encoding":{"theta":{"field":"b0","type":"quantitative","scale":{"domain":[0,360],"range":[0,6.2832]}},"theta2":{"field":"b1"},"color":{"field":"t","type":"nominal","legend":null,"scale":{"domain":["Firmicutes","Bacteroidota","Proteobacteria","Desulfobacterota","NC","MC","Orlistat","LGZGL","LGZGH"],"range":["#fee5d9","#fcae91","#fb6a4a","#cb181d","#eff3ff","#c6dbef","#8fc0e0","#559dce","#2171b5"]}}}},
{"data":{"name":"bSec"},"transform":[{"fold":["0%","25%","50%","75%","100%"],"as":["k","a"]},{"filter":"isValid(datum.a)"}],"mark":{"type":"text","radius":262,"fontSize":8,"font":"Liberation Sans","fill":"#444"},"encoding":{"theta":{"field":"a","type":"quantitative","scale":{"domain":[0,360],"range":[0,6.2832]}},"text":{"field":"k"},"angle":{"field":"a","type":"quantitative","legend":null,"scale":{"domain":[0,360],"range":[0,360]}}}},
{"data":{"name":"bSec"},"transform":[{"filter":"datum.n=='Firmicutes'||datum.n=='Bacteroidota'"}],"mark":{"type":"text","radius":282,"fontSize":14,"font":"Liberation Sans","fill":"#222"},"encoding":{"theta":{"field":"m","type":"quantitative","scale":{"domain":[0,360],"range":[0,6.2832]}},"text":{"field":"n"},"angle":{"field":"m","type":"quantitative","legend":null,"scale":{"domain":[0,360],"range":[0,360]}}}},
{"data":{"name":"bSec"},"transform":[{"filter":"datum.m>90&&datum.m<270"}],"mark":{"type":"text","radius":282,"fontSize":14,"font":"Liberation Sans","fill":"#222"},"encoding":{"theta":{"field":"m","type":"quantitative","scale":{"domain":[0,360],"range":[0,6.2832]}},"text":{"field":"n"},"angle":{"field":"m","type":"quantitative","legend":null,"scale":{"domain":[0,360],"range":[180,540]}}}},
{"data":{"name":"bSec"},"transform":[{"filter":"datum.n=='Proteobacteria'||datum.n=='Desulfobacterota'"}],"mark":{"type":"text","radius":350,"fontSize":14,"font":"Liberation Sans","fill":"#222"},"encoding":{"theta":{"field":"m","type":"quantitative","scale":{"domain":[0,360],"range":[0,6.2832]}},"text":{"field":"n"},"angle":{"field":"m","type":"quantitative","legend":null,"scale":{"domain":[0,360],"range":[-90,270]}}}}
]}
]},
{"width":1,"height":33,"data":{"values":[{"s":0}]},"mark":{"type":"point","opacity":0},"encoding":{}},
{"spacing":0,"bounds":"flush","resolve":{"scale":{"color":"independent","stroke":"independent","size":"independent","theta":"independent","angle":"independent","xOffset":"independent"},"legend":{"color":"independent"}},"hconcat":[
{"width":869,"height":502,"title":{"text":"C","font":"Liberation Serif","fontWeight":"bold","fontSize":40,"anchor":"start","frame":"group","dx":-86,"offset":19},
"resolve":{"scale":{"xOffset":"independent"}},
"encoding":{"x":{"field":"p","type":"nominal","sort":["Firmicutes","Bacteroidota","Proteobacteria","Desulfobacterota"],"scale":{"range":[21,869],"paddingInner":0.189,"paddingOuter":0.0945},"axis":{"title":null,"labelAngle":0,"domain":false,"labelLimit":0,"labelFont":"Liberation Serif","labelFontSize":27,"labelColor":"black","tickColor":"black","tickWidth":3,"tickSize":11,"labelPadding":8}}},
"layer":[
{"data":{"name":"cBars"},"mark":{"type":"bar","stroke":"black","strokeWidth":3},"encoding":{"xOffset":{"field":"g","sort":["NC","MC","Orlistat","LGZGL","LGZGH"]},"y":{"field":"m","type":"quantitative","scale":{"domain":[0,0.928],"nice":false},"axis":{"values":[0,0.2,0.4,0.6,0.8],"format":".1f","title":"Relative Abundance (%)","titleFont":"Liberation Serif","titleFontWeight":"normal","titleFontSize":33,"titleColor":"black","titlePadding":12,"labelFont":"Liberation Serif","labelFontSize":27,"labelColor":"black","domainColor":"black","domainWidth":3,"tickColor":"black","tickWidth":3,"tickSize":9}},"color":{"field":"g","type":"nominal","scale":{"domain":["NC","MC","Orlistat","LGZGL","LGZGH"],"range":["#4dbbd5","#e64b35","#00a087","#f39b7f","#3c5488"]},"legend":{"orient":"none","legendX":903,"legendY":188,"title":null,"symbolType":"square","symbolSize":520,"symbolStrokeColor":"black","symbolStrokeWidth":3,"labelFont":"Liberation Serif","labelFontSize":27,"labelColor":"black","labelOffset":8,"rowPadding":-12,"padding":0}}}},
{"data":{"name":"cBars"},"mark":{"type":"rule","strokeWidth":3,"color":"black"},"encoding":{"xOffset":{"field":"g","sort":["NC","MC","Orlistat","LGZGL","LGZGH"]},"y":{"field":"m","type":"quantitative"},"y2":{"field":"u"}}},
{"data":{"name":"cBars"},"mark":{"type":"tick","thickness":3,"size":11,"color":"black"},"encoding":{"xOffset":{"field":"g","sort":["NC","MC","Orlistat","LGZGL","LGZGH"]},"y":{"field":"u","type":"quantitative"}}},
{"data":{"values":[{"v":0}]},"mark":{"type":"rule","strokeWidth":3,"color":"black"},"encoding":{"x":{"value":0},"x2":{"value":869},"y":{"field":"v","type":"quantitative"}}},
{"data":{"name":"cPts"},"mark":{"type":"circle","size":165,"opacity":1},"encoding":{"xOffset":{"field":"o","type":"quantitative","scale":{"domain":[-2.5,2.5],"range":[0,172]}},"y":{"field":"v","type":"quantitative"},"color":{"field":"g","type":"nominal","legend":null,"scale":{"domain":["NC","MC","Orlistat","LGZGL","LGZGH"],"range":["#4dbbd5","#e64b35","#00a087","#f39b7f","#3c5488"]}}}},
{"data":{"values":[{"p":"Bacteroidota","o":-2,"y":0.447},{"p":"Bacteroidota","o":-2,"y":0.463},{"p":"Bacteroidota","o":-1,"y":0.463},{"p":"Bacteroidota","o":-1,"y":0.447}]},"mark":{"type":"line","color":"black","strokeWidth":2,"order":false},"encoding":{"xOffset":{"field":"o","type":"quantitative","scale":{"domain":[-2.5,2.5],"range":[0,172]}},"y":{"field":"y","type":"quantitative"}}},
{"data":{"values":[{"p":"Bacteroidota","o":-1.5,"y":0.472,"n":"*"}]},"mark":{"type":"text","font":"Liberation Serif","fontSize":22,"color":"black","baseline":"middle"},"encoding":{"xOffset":{"field":"o","type":"quantitative","scale":{"domain":[-2.5,2.5],"range":[0,172]}},"y":{"field":"y","type":"quantitative"},"text":{"field":"n"}}}
]},
{"width":292.5,"height":1,"data":{"values":[{"s":0}]},"mark":{"type":"point","opacity":0},"encoding":{}},
{"width":409.5,"height":491,"title":{"text":"D","font":"Liberation Serif","fontWeight":"bold","fontSize":40,"anchor":"start","frame":"group","dx":-175,"offset":34},
"resolve":{"scale":{"xOffset":"independent"}},
"encoding":{"x":{"field":"g","type":"nominal","sort":["NC","MC","Orlistat","LGZGL","LGZGH"],"scale":{"range":[7,402],"paddingInner":0.177,"paddingOuter":0.0885},"axis":{"title":null,"labelAngle":0,"domain":false,"labelFont":"Liberation Serif","labelFontSize":25,"labelColor":"black","tickColor":"black","tickWidth":3,"tickSize":11,"labelPadding":8}}},
"layer":[
{"data":{"name":"dBars"},"mark":{"type":"bar","stroke":"black","strokeWidth":3},"encoding":{"y":{"field":"m","type":"quantitative","scale":{"domain":[0,25.84],"nice":false},"axis":{"values":[0,5,10,15,20],"domain":false,"title":"F/B ratio","titleFont":"Liberation Serif","titleFontWeight":"normal","titleFontSize":28,"titleColor":"black","titlePadding":12,"labelFont":"Liberation Serif","labelFontSize":24,"labelColor":"black","tickColor":"black","tickWidth":3,"tickSize":9}},"color":{"field":"g","type":"nominal","legend":null,"scale":{"domain":["NC","MC","Orlistat","LGZGL","LGZGH"],"range":["#4dbbd5","#e64b35","#00a087","#f39b7f","#3c5488"]}}}},
{"data":{"name":"dBars"},"mark":{"type":"rule","strokeWidth":3,"color":"black"},"encoding":{"y":{"field":"m","type":"quantitative"},"y2":{"field":"u"}}},
{"data":{"name":"dBars"},"mark":{"type":"tick","thickness":3,"size":11,"color":"black"},"encoding":{"y":{"field":"u","type":"quantitative"}}},
{"data":{"values":[{"a":0,"b":24.6}]},"mark":{"type":"rule","strokeWidth":3,"color":"black"},"encoding":{"x":{"value":0},"y":{"field":"a","type":"quantitative"},"y2":{"field":"b"}}},
{"data":{"values":[{"v":0}]},"mark":{"type":"rule","strokeWidth":3,"color":"black"},"encoding":{"x":{"value":0},"x2":{"value":409.5},"y":{"field":"v","type":"quantitative"}}},
{"data":{"name":"dPts"},"mark":{"type":"circle","size":165,"opacity":1},"encoding":{"xOffset":{"field":"o","type":"quantitative","scale":{"domain":[-0.5,0.5],"range":[-7,72]}},"y":{"field":"v","type":"quantitative"},"color":{"field":"g","type":"nominal","legend":null,"scale":{"domain":["NC","MC","Orlistat","LGZGL","LGZGH"],"range":["#4dbbd5","#e64b35","#00a087","#f39b7f","#3c5488"]}}}},
{"data":{"values":[{"g":"NC","y":22.6},{"g":"NC","y":23},{"g":"MC","y":23},{"g":"MC","y":22.6}]},"mark":{"type":"line","color":"black","strokeWidth":2,"order":false},"encoding":{"y":{"field":"y","type":"quantitative"}}},
{"data":{"values":[{"g":"NC","o":0.5,"y":23.5,"n":"*"}]},"mark":{"type":"text","font":"Liberation Serif","fontSize":22,"color":"black","baseline":"middle"},"encoding":{"xOffset":{"field":"o","type":"quantitative","scale":{"domain":[-0.5,0.5],"range":[-7,72]}},"y":{"field":"y","type":"quantitative"},"text":{"field":"n"}}}
]}
]},
{"width":1,"height":142,"data":{"values":[{"s":0}]},"mark":{"type":"point","opacity":0},"encoding":{}},
{"spacing":0,"bounds":"flush","resolve":{"scale":{"color":"independent","stroke":"independent","size":"independent","theta":"independent","angle":"independent","xOffset":"independent"},"legend":{"color":"independent"}},"hconcat":[
{"width":24,"height":1,"data":{"values":[{"s":0}]},"mark":{"type":"point","opacity":0},"encoding":{}},
{"width":564,"height":568,"title":{"text":"E","font":"Liberation Serif","fontWeight":"bold","fontSize":40,"anchor":"start","frame":"group","dx":-112,"offset":-16},
"data":{"name":"genera"},
"transform":[{"fold":["N0","N1","M0","M1","O0","O1","L0","L1","H0","H1"],"as":["s","v"]},{"lookup":"s","from":{"data":{"name":"slots"},"key":"s","fields":["g"]}},{"stack":"v","groupby":["s"],"sort":[{"field":"r","order":"ascending"}],"as":["y0","y1"]}],
"encoding":{
"x":{"field":"s","type":"ordinal","scale":{"type":"point","padding":0,"domain":["N0","a1","a2","NC","a3","a4","N1","b","M0","c1","c2","MC","c3","c4","M1","d","O0","e1","e2","Orlistat","e3","e4","O1","f","L0","g1","g2","LGZGL","g3","g4","L1","h","H0","i1","i2","LGZGH","i3","i4","H1"]},"axis":{"values":["NC","MC","Orlistat","LGZGL","LGZGH"],"title":null,"labelAngle":-45,"labelAlign":"right","labelBaseline":"middle","labelFont":"Liberation Sans","labelFontWeight":"bold","labelFontStyle":"italic","labelFontSize":14,"labelColor":"black","labelPadding":8,"tickColor":"#555","domainColor":"#555","domainWidth":2}},
"y":{"field":"y1","type":"quantitative","scale":{"domain":[0,100],"nice":false},"axis":{"values":[0,10,20,30,40,50,60,70,80,90,100],"labelExpr":"datum.value+'%'","title":"Relative Abundance(%)","titleFont":"Liberation Sans","titleFontWeight":"bold","titleFontSize":16,"titleColor":"black","titlePadding":10,"labelFont":"Liberation Sans","labelFontWeight":"bold","labelFontSize":13.5,"labelColor":"black","tickColor":"#555","domainColor":"#555","tickSize":4}},
"y2":{"field":"y0"},
"color":{"field":"t","type":"nominal","scale":{"domain":["Others","Phascolarctobacterium","Romboutsia","Peptococcaceae","Colidextribacter","Ruminococcus","Roseburia","NK4A214_group","Blautia","Lactobacillus","Dubosiella","Christensenellaceae_R_7_group","[Eubacterium]_coprostanoligenes_group","Clostridia_UCG_014","UCG_005","Bacteroides","Alloprevotella","Oscillospiraceae","Lachnospiraceae_NK4A136_group","Lachnospiraceae","Muribaculaceae"],"range":["#9e0142","#b81e48","#d0374d","#e2524a","#f46d43","#f88a52","#fca85e","#fdbd6f","#fdd180","#fee593","#fef5ae","#f6fbb2","#e4f498","#cbe99d","#a8dca2","#86cfa5","#65c2a5","#4ba0b1","#3f85b8","#4a6aae","#5e4fa2"]},"legend":{"orient":"none","legendX":625,"legendY":35.5,"title":null,"symbolType":"square","symbolSize":290,"symbolOpacity":1,"symbolStrokeWidth":0,"labelFont":"Liberation Sans","labelFontSize":15,"labelColor":"black","labelOffset":4,"labelLimit":0,"rowPadding":4,"padding":0}}},
"layer":[{"mark":{"type":"area","opacity":0.45,"interpolate":"monotone","order":false,"stroke":"#999","strokeWidth":0.6}},{"mark":{"type":"area","order":false},"encoding":{"detail":{"field":"g"}}}]},
{"width":520,"height":1,"data":{"values":[{"s":0}]},"mark":{"type":"point","opacity":0},"encoding":{}},
{"width":526,"height":526,"title":{"text":"F","font":"Liberation Serif","fontWeight":"bold","fontSize":40,"anchor":"start","frame":"group","dx":-171,"offset":-77},
"resolve":{"scale":{"angle":"independent"}},
"layer":[
{"data":{"name":"fSec"},"mark":{"type":"arc","radius":250,"radius2":250,"fillOpacity":0,"stroke":"#444","strokeWidth":1,"strokeDash":[1,2]},"encoding":{"theta":{"field":"s","type":"quantitative","scale":{"domain":[0,360],"range":[0,6.2832]}},"theta2":{"field":"e"}}},
{"data":{"name":"fSec"},"mark":{"type":"arc","radius":209,"radius2":186},"encoding":{"theta":{"field":"s","type":"quantitative","scale":{"domain":[0,360],"range":[0,6.2832]}},"theta2":{"field":"e"},"color":{"field":"n","type":"nominal","legend":null,"scale":{"domain":["Muribaculaceae","Lachnospiraceae","Lachnospiraceae_NK4A136_group","Oscillospiraceae","Alloprevotella","UCG_005","Bacteroides","Clostridia_UCG_014","[Eubacterium]_coprostanoligenes_group","Christensenellaceae_R_7_group","NC","MC","Orlistat","LGZGL","LGZGH"],"range":["#7b4dff","#fbd537","#2a8f8c","#5fdedd","#fca25f","#b9b1e3","#57a0c8","#94dba8","#5590e0","#c26dd8","#bc3c29","#0072b5","#e18727","#20854e","#7876b1"]}}}},
{"data":{"name":"fCh"},"transform":[{"flatten":["x","y"]}],"mark":{"type":"line","interpolate":"basis","opacity":0.45,"order":false},"encoding":{"x":{"field":"x","type":"quantitative","axis":null,"scale":{"domain":[-1.556,1.556],"nice":false,"zero":false}},"y":{"field":"y","type":"quantitative","axis":null,"scale":{"domain":[-1.556,1.556],"nice":false,"zero":false}},"detail":{"field":"g"},"size":{"field":"v","type":"quantitative","legend":null,"scale":{"domain":[0,20],"range":[0,32]}},"color":{"field":"t","type":"nominal","legend":null,"scale":{"domain":["Muribaculaceae","Lachnospiraceae","Lachnospiraceae_NK4A136_group","Oscillospiraceae","Alloprevotella","UCG_005","Bacteroides","Clostridia_UCG_014","[Eubacterium]_coprostanoligenes_group","Christensenellaceae_R_7_group","NC","MC","Orlistat","LGZGL","LGZGH"],"range":["#7b4dff","#fbd537","#2a8f8c","#5fdedd","#fca25f","#b9b1e3","#57a0c8","#94dba8","#5590e0","#c26dd8","#bc3c29","#0072b5","#e18727","#20854e","#7876b1"]}}}},
{"data":{"name":"fCh"},"encoding":{"theta":{"field":"a0","type":"quantitative","scale":{"domain":[0,360],"range":[0,6.2832]}},"theta2":{"field":"a1"},"color":{"field":"g","type":"nominal","legend":null,"scale":{"domain":["Muribaculaceae","Lachnospiraceae","Lachnospiraceae_NK4A136_group","Oscillospiraceae","Alloprevotella","UCG_005","Bacteroides","Clostridia_UCG_014","[Eubacterium]_coprostanoligenes_group","Christensenellaceae_R_7_group","NC","MC","Orlistat","LGZGL","LGZGH"],"range":["#7b4dff","#fbd537","#2a8f8c","#5fdedd","#fca25f","#b9b1e3","#57a0c8","#94dba8","#5590e0","#c26dd8","#bc3c29","#0072b5","#e18727","#20854e","#7876b1"]}}},"layer":[{"mark":{"type":"arc","radius":245,"radius2":232}},{"mark":{"type":"arc","radius":181,"radius2":169}}]},
{"data":{"name":"fCh"},"encoding":{"theta":{"field":"b0","type":"quantitative","scale":{"domain":[0,360],"range":[0,6.2832]}},"theta2":{"field":"b1"},"color":{"field":"t","type":"nominal","legend":null,"scale":{"domain":["Muribaculaceae","Lachnospiraceae","Lachnospiraceae_NK4A136_group","Oscillospiraceae","Alloprevotella","UCG_005","Bacteroides","Clostridia_UCG_014","[Eubacterium]_coprostanoligenes_group","Christensenellaceae_R_7_group","NC","MC","Orlistat","LGZGL","LGZGH"],"range":["#7b4dff","#fbd537","#2a8f8c","#5fdedd","#fca25f","#b9b1e3","#57a0c8","#94dba8","#5590e0","#c26dd8","#bc3c29","#0072b5","#e18727","#20854e","#7876b1"]}}},"layer":[{"mark":{"type":"arc","radius":245,"radius2":232}},{"mark":{"type":"arc","radius":181,"radius2":169}}]},
{"data":{"name":"fSec"},"transform":[{"fold":["0%","25%","50%","75%","100%"],"as":["k","a"]},{"filter":"isValid(datum.a)"}],"mark":{"type":"text","radius":259,"fontSize":6.5,"font":"Liberation Sans","fill":"#444"},"encoding":{"theta":{"field":"a","type":"quantitative","scale":{"domain":[0,360],"range":[0,6.2832]}},"text":{"field":"k"},"angle":{"field":"a","type":"quantitative","legend":null,"scale":{"domain":[0,360],"range":[0,360]}}}},
{"data":{"name":"fSec"},"transform":[{"filter":"datum.m>180&&datum.n!='[Eubacterium]_coprostanoligenes_group'"}],"mark":{"type":"text","radius":328,"fontSize":10.5,"font":"Liberation Serif","fontStyle":"italic","fill":"#222"},"encoding":{"theta":{"field":"m","type":"quantitative","scale":{"domain":[0,360],"range":[0,6.2832]}},"text":{"field":"n"},"angle":{"field":"m","type":"quantitative","legend":null,"scale":{"domain":[180,360],"range":[-90,90]}}}},
{"data":{"name":"fSec"},"transform":[{"filter":"datum.n=='[Eubacterium]_coprostanoligenes_group'"}],"mark":{"type":"text","radius":352,"fontSize":10.5,"font":"Liberation Serif","fontStyle":"italic","fill":"#222"},"encoding":{"theta":{"field":"m","type":"quantitative","scale":{"domain":[0,360],"range":[0,6.2832]}},"text":{"field":"n"},"angle":{"field":"m","type":"quantitative","legend":null,"scale":{"domain":[180,360],"range":[-90,90]}}}},
{"data":{"name":"fSec"},"transform":[{"filter":"datum.m<180"}],"mark":{"type":"text","radius":305,"fontSize":14,"font":"Liberation Serif","fill":"#222"},"encoding":{"theta":{"field":"m","type":"quantitative","scale":{"domain":[0,360],"range":[0,6.2832]}},"text":{"field":"n"},"angle":{"field":"m","type":"quantitative","legend":null,"scale":{"domain":[0,180],"range":[-90,90]}}}}
]}
]},
{"width":1,"height":111,"data":{"values":[{"s":0}]},"mark":{"type":"point","opacity":0},"encoding":{}},
{"spacing":0,"bounds":"flush","resolve":{"scale":{"color":"independent","stroke":"independent","size":"independent","theta":"independent","angle":"independent","xOffset":"independent"},"legend":{"color":"independent"}},"hconcat":[
{"width":20,"height":1,"data":{"values":[{"s":0}]},"mark":{"type":"point","opacity":0},"encoding":{}},
{"width":312,"height":367.5,"title":{"text":"G","font":"Liberation Serif","fontWeight":"bold","fontSize":40,"anchor":"start","frame":"group","dx":-120,"offset":-39},
"encoding":{"x":{"field":"x","type":"quantitative","scale":{"domain":[0.338,5.69],"nice":false,"zero":false},"axis":{"values":[1,2,3,4,5],"labelExpr":"['NC','MC','HFD+Orlistat','HFD+LGZGL','HFD+LGZGH'][datum.value-1]","labelOverlap":false,"title":null,"labelAngle":-45,"labelAlign":"right","labelBaseline":"middle","labelFont":"Liberation Sans","labelFontWeight":"bold","labelFontStyle":"italic","labelFontSize":13,"labelColor":"black","domainColor":"black","domainWidth":3,"tickColor":"black","tickWidth":2.5,"tickSize":9,"labelPadding":8}},
"y":{"field":"y","type":"quantitative","scale":{"domain":[0,0.11836],"nice":false},"axis":{"values":[0,0.02,0.04,0.06,0.08,0.1],"format":".2f","domain":false,"title":"Relative Abundance(%)","titleFont":"Liberation Serif","titleFontWeight":"bold","titleFontSize":20,"titleColor":"black","titlePadding":8,"labelFont":"Liberation Sans","labelFontWeight":"bold","labelFontSize":14,"labelColor":"black","tickColor":"black","tickWidth":2,"tickSize":6}}},
"layer":[
{"data":{"values":[{"x":0.338,"y":0,"y2":0.1}]},"mark":{"type":"rule","strokeWidth":2.5,"color":"black"},"encoding":{"y2":{"field":"y2"}}},
{"data":{"name":"gB"},"mark":{"type":"line","color":"black","strokeWidth":1.6,"order":false},"encoding":{"detail":{"field":"b"}}},
{"data":{"name":"gV"},"mark":{"type":"area","orient":"horizontal","interpolate":"monotone","fill":"transparent","strokeWidth":2.4},"encoding":{"x2":{"field":"x2"},"stroke":{"field":"g","type":"nominal","legend":null,"scale":{"domain":["N","M","O","L","H"],"range":["#1f4f97","#4a2b96","#a0189a","#7f9fb0","#4c9a2a"]}}}},
{"data":{"name":"gQ"},"transform":[{"filter":"datum.k=='q'"}],"mark":{"type":"rule","strokeDash":[2,3],"strokeWidth":2},"encoding":{"x2":{"field":"x2"},"stroke":{"field":"g","type":"nominal","legend":null,"scale":{"domain":["N","M","O","L","H"],"range":["#1f4f97","#4a2b96","#a0189a","#4c9a2a","#4c9a2a"]}}}},
{"data":{"name":"gQ"},"transform":[{"filter":"datum.k=='m'"}],"mark":{"type":"rule","strokeDash":[5,3],"strokeWidth":2},"encoding":{"x2":{"field":"x2"},"color":{"field":"g","type":"nominal","legend":null,"scale":{"domain":["N","M","O","L","H"],"range":["#8fb0e8","#b8a0e8","#e890e0","#b0d890","#90c0e8"]}}}},
{"data":{"values":[{"n":"Christensenellaceae_R_7_group","x":2.71,"y":0.1325}]},"mark":{"type":"text","font":"Liberation Serif","fontWeight":"bold","fontStyle":"italic","fontSize":19,"color":"black"},"encoding":{"text":{"field":"n"}}},
{"data":{"values":[{"n":"**","x":1.46,"y":0.0984},{"n":"**","x":2.53,"y":0.0984},{"n":"*","x":3,"y":0.1102},{"n":"**","x":3.49,"y":0.122}]},"mark":{"type":"text","font":"Liberation Serif","fontWeight":"bold","fontSize":26,"color":"black","baseline":"middle","dy":5},"encoding":{"text":{"field":"n"}}}
]},
{"width":136,"height":1,"data":{"values":[{"s":0}]},"mark":{"type":"point","opacity":0},"encoding":{}},
{"width":353,"height":364,"title":{"text":"H","font":"Liberation Serif","fontWeight":"bold","fontSize":40,"anchor":"start","frame":"group","dx":-101,"offset":-29},
"encoding":{"x":{"field":"x","type":"quantitative","scale":{"domain":[0.339,5.688],"nice":false,"zero":false},"axis":{"values":[1,2,3,4,5],"labelExpr":"['NC','MC','HFD+Orlistat','HFD+LGZGL','HFD+LGZGH'][datum.value-1]","labelOverlap":false,"title":null,"labelAngle":-45,"labelAlign":"right","labelBaseline":"middle","labelFont":"Liberation Sans","labelFontWeight":"bold","labelFontStyle":"italic","labelFontSize":13,"labelColor":"black","domainColor":"black","domainWidth":3,"tickColor":"black","tickWidth":2.5,"tickSize":9,"labelPadding":8}},
"y":{"field":"y","type":"quantitative","scale":{"domain":[0,0.15456],"nice":false},"axis":{"values":[0,0.05,0.1,0.15],"format":".2f","domain":false,"title":"Relative Abundance(%)","titleFont":"Liberation Serif","titleFontWeight":"bold","titleFontSize":20,"titleColor":"black","titlePadding":8,"labelFont":"Liberation Sans","labelFontWeight":"bold","labelFontSize":14,"labelColor":"black","tickColor":"black","tickWidth":2,"tickSize":6}}},
"layer":[
{"data":{"values":[{"x":0.339,"y":0,"y2":0.15}]},"mark":{"type":"rule","strokeWidth":2.5,"color":"black"},"encoding":{"y2":{"field":"y2"}}},
{"data":{"name":"hB"},"mark":{"type":"line","color":"black","strokeWidth":1.6,"order":false},"encoding":{"detail":{"field":"b"}}},
{"data":{"name":"hV"},"mark":{"type":"area","orient":"horizontal","interpolate":"monotone","fill":"transparent","strokeWidth":2.4},"encoding":{"x2":{"field":"x2"},"stroke":{"field":"g","type":"nominal","legend":null,"scale":{"domain":["N","M","O","L","H"],"range":["#1f4f97","#4a2b96","#a0189a","#7f9fb0","#4c9a2a"]}}}},
{"data":{"name":"hQ"},"transform":[{"filter":"datum.k=='q'"}],"mark":{"type":"rule","strokeDash":[2,3],"strokeWidth":2},"encoding":{"x2":{"field":"x2"},"stroke":{"field":"g","type":"nominal","legend":null,"scale":{"domain":["N","M","O","L","H"],"range":["#1f4f97","#4a2b96","#a0189a","#4c9a2a","#4c9a2a"]}}}},
{"data":{"name":"hQ"},"transform":[{"filter":"datum.k=='m'"}],"mark":{"type":"rule","strokeDash":[5,3],"strokeWidth":2},"encoding":{"x2":{"field":"x2"},"color":{"field":"g","type":"nominal","legend":null,"scale":{"domain":["N","M","O","L","H"],"range":["#8fb0e8","#b8a0e8","#e890e0","#b0d890","#90c0e8"]}}}},
{"data":{"values":[{"n":"UCG_005","x":2.72,"y":0.169}]},"mark":{"type":"text","font":"Liberation Serif","fontWeight":"bold","fontStyle":"italic","fontSize":19,"color":"black"},"encoding":{"text":{"field":"n"}}},
{"data":{"values":[{"n":"*","x":1.365,"y":0.1467},{"n":"***","x":3.47,"y":0.1467}]},"mark":{"type":"text","font":"Liberation Serif","fontWeight":"bold","fontSize":26,"color":"black","baseline":"middle","dy":5},"encoding":{"text":{"field":"n"}}}
]},
{"width":70,"height":1,"data":{"values":[{"s":0}]},"mark":{"type":"point","opacity":0},"encoding":{}},
{"width":347,"height":365.5,"title":{"text":"I","font":"Liberation Serif","fontWeight":"bold","fontSize":40,"anchor":"start","frame":"group","dx":-92,"offset":-17},
"encoding":{"x":{"field":"x","type":"quantitative","scale":{"domain":[0.343,5.68],"nice":false,"zero":false},"axis":{"values":[1,2,3,4,5],"labelExpr":"['NC','MC','HFD+Orlistat','HFD+LGZGL','HFD+LGZGH'][datum.value-1]","labelOverlap":false,"title":null,"labelAngle":-45,"labelAlign":"right","labelBaseline":"middle","labelFont":"Liberation Sans","labelFontWeight":"bold","labelFontStyle":"italic","labelFontSize":13,"labelColor":"black","domainColor":"black","domainWidth":3,"tickColor":"black","tickWidth":2.5,"tickSize":9,"labelPadding":8}},
"y":{"field":"y","type":"quantitative","scale":{"domain":[0,0.3168],"nice":false},"axis":{"values":[0,0.1,0.2,0.3],"format":".1f","domain":false,"title":"Relative Abundance(%)","titleFont":"Liberation Serif","titleFontWeight":"bold","titleFontSize":20,"titleColor":"black","titlePadding":8,"labelFont":"Liberation Sans","labelFontWeight":"bold","labelFontSize":14,"labelColor":"black","tickColor":"black","tickWidth":2,"tickSize":6}}},
"layer":[
{"data":{"values":[{"x":0.343,"y":0,"y2":0.3}]},"mark":{"type":"rule","strokeWidth":2.5,"color":"black"},"encoding":{"y2":{"field":"y2"}}},
{"data":{"name":"iB"},"mark":{"type":"line","color":"black","strokeWidth":1.6,"order":false},"encoding":{"detail":{"field":"b"}}},
{"data":{"name":"iV"},"mark":{"type":"area","orient":"horizontal","interpolate":"monotone","fill":"transparent","strokeWidth":2.4},"encoding":{"x2":{"field":"x2"},"stroke":{"field":"g","type":"nominal","legend":null,"scale":{"domain":["N","M","O","L","H"],"range":["#1f4f97","#4a2b96","#a0189a","#7f9fb0","#4c9a2a"]}}}},
{"data":{"name":"iQ"},"transform":[{"filter":"datum.k=='q'"}],"mark":{"type":"rule","strokeDash":[2,3],"strokeWidth":2},"encoding":{"x2":{"field":"x2"},"stroke":{"field":"g","type":"nominal","legend":null,"scale":{"domain":["N","M","O","L","H"],"range":["#1f4f97","#4a2b96","#a0189a","#4c9a2a","#4c9a2a"]}}}},
{"data":{"name":"iQ"},"transform":[{"filter":"datum.k=='m'"}],"mark":{"type":"rule","strokeDash":[5,3],"strokeWidth":2},"encoding":{"x2":{"field":"x2"},"color":{"field":"g","type":"nominal","legend":null,"scale":{"domain":["N","M","O","L","H"],"range":["#8fb0e8","#b8a0e8","#e890e0","#b0d890","#90c0e8"]}}}},
{"data":{"values":[{"n":"Muribaculaceae","x":2.73,"y":0.3376}]},"mark":{"type":"text","font":"Liberation Serif","fontWeight":"bold","fontStyle":"italic","fontSize":19,"color":"black"},"encoding":{"text":{"field":"n"}}},
{"data":{"values":[{"n":"**","x":1.47,"y":0.29},{"n":"*","x":3.02,"y":0.29}]},"mark":{"type":"text","font":"Liberation Serif","fontWeight":"bold","fontSize":26,"color":"black","baseline":"middle","dy":5},"encoding":{"text":{"field":"n"}}}
]},
{"width":114,"height":1,"data":{"values":[{"s":0}]},"mark":{"type":"point","opacity":0},"encoding":{}},
{"width":345,"height":363.5,"title":{"text":"J","font":"Liberation Serif","fontWeight":"bold","fontSize":40,"anchor":"start","frame":"group","dx":-97,"offset":-29},
"encoding":{"x":{"field":"x","type":"quantitative","scale":{"domain":[0.333,5.682],"nice":false,"zero":false},"axis":{"values":[1,2,3,4,5],"labelExpr":"['NC','MC','HFD+Orlistat','HFD+LGZGL','HFD+LGZGH'][datum.value-1]","labelOverlap":false,"title":null,"labelAngle":-45,"labelAlign":"right","labelBaseline":"middle","labelFont":"Liberation Sans","labelFontWeight":"bold","labelFontStyle":"italic","labelFontSize":13,"labelColor":"black","domainColor":"black","domainWidth":3,"tickColor":"black","tickWidth":2.5,"tickSize":9,"labelPadding":8}},
"y":{"field":"y","type":"quantitative","scale":{"domain":[0,0.15846],"nice":false},"axis":{"values":[0,0.05,0.1,0.15],"format":".2f","domain":false,"title":"Relative Abundance(%)","titleFont":"Liberation Serif","titleFontWeight":"bold","titleFontSize":20,"titleColor":"black","titlePadding":8,"labelFont":"Liberation Sans","labelFontWeight":"bold","labelFontSize":14,"labelColor":"black","tickColor":"black","tickWidth":2,"tickSize":6}}},
"layer":[
{"data":{"values":[{"x":0.333,"y":0,"y2":0.15}]},"mark":{"type":"rule","strokeWidth":2.5,"color":"black"},"encoding":{"y2":{"field":"y2"}}},
{"data":{"name":"jB"},"mark":{"type":"line","color":"black","strokeWidth":1.6,"order":false},"encoding":{"detail":{"field":"b"}}},
{"data":{"name":"jV"},"mark":{"type":"area","orient":"horizontal","interpolate":"monotone","fill":"transparent","strokeWidth":2.4},"encoding":{"x2":{"field":"x2"},"stroke":{"field":"g","type":"nominal","legend":null,"scale":{"domain":["N","M","O","L","H"],"range":["#1f4f97","#4a2b96","#a0189a","#7f9fb0","#4c9a2a"]}}}},
{"data":{"name":"jQ"},"transform":[{"filter":"datum.k=='q'"}],"mark":{"type":"rule","strokeDash":[2,3],"strokeWidth":2},"encoding":{"x2":{"field":"x2"},"stroke":{"field":"g","type":"nominal","legend":null,"scale":{"domain":["N","M","O","L","H"],"range":["#1f4f97","#4a2b96","#a0189a","#4c9a2a","#4c9a2a"]}}}},
{"data":{"name":"jQ"},"transform":[{"filter":"datum.k=='m'"}],"mark":{"type":"rule","strokeDash":[5,3],"strokeWidth":2},"encoding":{"x2":{"field":"x2"},"color":{"field":"g","type":"nominal","legend":null,"scale":{"domain":["N","M","O","L","H"],"range":["#8fb0e8","#b8a0e8","#e890e0","#b0d890","#90c0e8"]}}}},
{"data":{"values":[{"n":"Dubosiella","x":2.71,"y":0.173}]},"mark":{"type":"text","font":"Liberation Serif","fontWeight":"bold","fontStyle":"italic","fontSize":19,"color":"black"},"encoding":{"text":{"field":"n"}}},
{"data":{"values":[{"n":"**","x":2.95,"y":0.1424}]},"mark":{"type":"text","font":"Liberation Serif","fontWeight":"bold","fontSize":26,"color":"black","baseline":"middle","dy":5},"encoding":{"text":{"field":"n"}}}
]}
]}
]}
